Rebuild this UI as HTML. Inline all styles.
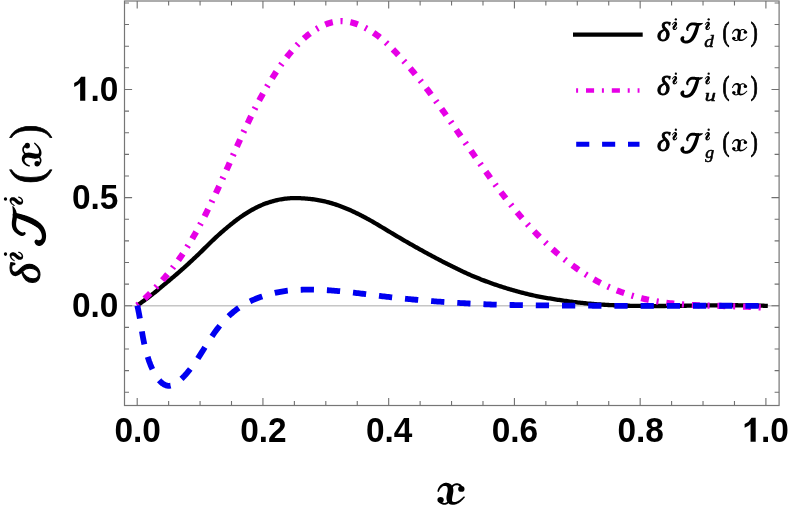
<!DOCTYPE html>
<html><head><meta charset="utf-8"><title>plot</title>
<style>html,body{margin:0;padding:0;background:#fff;}body{width:789px;height:527px;position:relative;overflow:hidden;font-family:"Liberation Sans",sans-serif;}</style>
</head><body>
<svg width="789" height="527" viewBox="0 0 789 527" style="position:absolute;left:0;top:0;will-change:transform">
<rect width="789" height="527" fill="#fff"/>
<line x1="124.5" x2="779.1" y1="305.75" y2="305.75" stroke="#c6c6c6" stroke-width="1.4"/>
<path d="M137.30,305.39 L138.49,304.57 L139.66,303.75 L140.83,302.92 L141.99,302.09 L143.14,301.26 L144.29,300.42 L145.43,299.58 L146.55,298.74 L147.68,297.90 L148.79,297.06 L149.90,296.22 L151.00,295.38 L152.10,294.54 L153.19,293.68 L154.27,292.83 L155.34,291.97 L156.41,291.10 L157.48,290.23 L158.54,289.35 L159.59,288.47 L160.64,287.59 L161.68,286.70 L162.72,285.81 L163.75,284.94 L164.78,284.08 L165.81,283.23 L166.83,282.40 L167.85,281.56 L168.86,280.73 L169.87,279.90 L170.87,279.06 L171.88,278.21 L172.88,277.36 L173.87,276.52 L174.87,275.68 L175.86,274.84 L176.85,274.00 L177.83,273.16 L178.82,272.31 L179.80,271.46 L180.78,270.60 L181.76,269.74 L182.74,268.87 L183.71,268.00 L184.69,267.12 L185.66,266.24 L186.64,265.36 L187.61,264.47 L188.58,263.58 L189.56,262.68 L190.53,261.78 L191.50,260.87 L192.48,259.96 L193.45,259.04 L194.42,258.13 L195.40,257.22 L196.38,256.30 L197.35,255.38 L198.33,254.45 L199.31,253.51 L200.29,252.56 L201.28,251.59 L202.27,250.61 L203.25,249.63 L204.24,248.64 L205.24,247.65 L206.23,246.67 L207.23,245.68 L208.24,244.70 L209.24,243.72 L210.25,242.74 L211.26,241.76 L212.28,240.79 L213.30,239.82 L214.32,238.85 L215.35,237.89 L216.39,236.93 L217.43,235.97 L218.47,235.02 L219.52,234.07 L220.57,233.13 L221.63,232.20 L222.69,231.27 L223.76,230.35 L224.84,229.43 L225.92,228.52 L227.01,227.61 L228.10,226.70 L229.20,225.79 L230.31,224.88 L231.42,223.98 L232.55,223.09 L233.68,222.20 L234.81,221.31 L235.96,220.44 L237.11,219.57 L238.27,218.71 L239.43,217.87 L240.61,217.03 L241.79,216.22 L242.97,215.41 L244.17,214.63 L245.37,213.86 L246.57,213.10 L247.79,212.35 L249.01,211.62 L250.23,210.90 L251.46,210.19 L252.70,209.50 L253.95,208.83 L255.20,208.17 L256.45,207.53 L257.71,206.90 L258.98,206.30 L260.25,205.72 L261.53,205.15 L262.81,204.61 L264.10,204.10 L265.39,203.61 L266.68,203.13 L267.98,202.68 L269.29,202.25 L270.60,201.83 L271.91,201.44 L273.23,201.06 L274.55,200.71 L275.88,200.37 L277.21,200.06 L278.55,199.77 L279.88,199.51 L281.22,199.26 L282.57,199.04 L283.92,198.84 L285.27,198.67 L286.62,198.52 L287.98,198.40 L289.34,198.29 L290.70,198.21 L292.06,198.15 L293.43,198.11 L294.79,198.09 L296.16,198.09 L297.53,198.11 L298.90,198.15 L300.27,198.21 L301.65,198.28 L303.02,198.36 L304.39,198.46 L305.76,198.56 L307.13,198.67 L308.50,198.79 L309.87,198.93 L311.24,199.08 L312.60,199.24 L313.97,199.42 L315.33,199.61 L316.69,199.82 L318.05,200.04 L319.40,200.28 L320.75,200.54 L322.10,200.81 L323.44,201.10 L324.79,201.42 L326.12,201.74 L327.46,202.09 L328.78,202.44 L330.11,202.81 L331.43,203.19 L332.74,203.59 L334.05,203.99 L335.35,204.41 L336.65,204.84 L337.94,205.28 L339.22,205.74 L340.50,206.21 L341.77,206.68 L343.03,207.17 L344.29,207.67 L345.55,208.18 L346.80,208.70 L348.04,209.23 L349.28,209.77 L350.52,210.33 L351.75,210.89 L352.97,211.45 L354.19,212.03 L355.41,212.61 L356.63,213.19 L357.84,213.79 L359.04,214.38 L360.25,214.99 L361.45,215.60 L362.65,216.22 L363.84,216.85 L365.04,217.48 L366.23,218.12 L367.42,218.77 L368.61,219.42 L369.79,220.08 L370.98,220.75 L372.16,221.43 L373.35,222.11 L374.53,222.79 L375.71,223.49 L376.89,224.19 L378.07,224.89 L379.25,225.60 L380.43,226.31 L381.62,227.02 L382.80,227.73 L383.98,228.45 L385.17,229.16 L386.35,229.88 L387.54,230.60 L388.73,231.31 L389.92,232.03 L391.11,232.74 L392.30,233.46 L393.50,234.17 L394.69,234.89 L395.89,235.60 L397.09,236.31 L398.29,237.02 L399.50,237.72 L400.70,238.43 L401.91,239.13 L403.12,239.84 L404.33,240.54 L405.54,241.24 L406.75,241.94 L407.97,242.64 L409.19,243.34 L410.40,244.03 L411.62,244.73 L412.85,245.42 L414.07,246.12 L415.29,246.81 L416.52,247.50 L417.75,248.19 L418.98,248.87 L420.21,249.56 L421.44,250.24 L422.67,250.92 L423.91,251.60 L425.15,252.28 L426.38,252.95 L427.62,253.63 L428.87,254.30 L430.11,254.97 L431.35,255.64 L432.60,256.31 L433.85,256.97 L435.09,257.64 L436.34,258.30 L437.60,258.96 L438.85,259.62 L440.10,260.27 L441.36,260.92 L442.62,261.57 L443.88,262.22 L445.14,262.86 L446.40,263.51 L447.66,264.14 L448.92,264.78 L450.19,265.41 L451.46,266.04 L452.72,266.66 L453.99,267.29 L455.26,267.91 L456.54,268.53 L457.81,269.16 L459.09,269.77 L460.36,270.39 L461.64,271.00 L462.92,271.61 L464.20,272.21 L465.48,272.80 L466.76,273.39 L468.05,273.98 L469.33,274.55 L470.62,275.12 L471.90,275.68 L473.19,276.24 L474.48,276.78 L475.77,277.31 L477.07,277.84 L478.36,278.36 L479.66,278.87 L480.95,279.38 L482.25,279.89 L483.55,280.38 L484.85,280.88 L486.15,281.37 L487.45,281.85 L488.75,282.33 L490.06,282.80 L491.36,283.27 L492.67,283.73 L493.98,284.18 L495.28,284.63 L496.59,285.08 L497.90,285.52 L499.22,285.95 L500.53,286.38 L501.84,286.81 L503.16,287.23 L504.47,287.64 L505.79,288.05 L507.11,288.45 L508.43,288.85 L509.75,289.25 L511.07,289.64 L512.39,290.02 L513.72,290.40 L515.04,290.78 L516.37,291.15 L517.69,291.51 L519.02,291.87 L520.35,292.23 L521.68,292.58 L523.01,292.92 L524.34,293.26 L525.67,293.59 L527.00,293.92 L528.34,294.25 L529.67,294.56 L531.01,294.88 L532.34,295.18 L533.68,295.48 L535.02,295.76 L536.36,296.04 L537.70,296.31 L539.04,296.58 L540.38,296.84 L541.72,297.09 L543.07,297.33 L544.41,297.57 L545.76,297.81 L547.10,298.04 L548.45,298.27 L549.80,298.49 L551.14,298.71 L552.49,298.93 L553.84,299.14 L555.19,299.35 L556.54,299.56 L557.90,299.77 L559.25,299.98 L560.60,300.19 L561.96,300.39 L563.31,300.60 L564.67,300.80 L566.02,300.99 L567.38,301.18 L568.74,301.36 L570.10,301.55 L571.46,301.72 L572.82,301.89 L574.18,302.06 L575.54,302.23 L576.90,302.39 L578.26,302.54 L579.63,302.69 L580.99,302.84 L582.36,302.98 L583.72,303.12 L585.09,303.26 L586.45,303.39 L587.82,303.52 L589.19,303.64 L590.55,303.76 L591.92,303.88 L593.29,303.99 L594.66,304.10 L596.03,304.20 L597.40,304.30 L598.77,304.40 L600.15,304.50 L601.52,304.59 L602.89,304.67 L604.27,304.76 L605.64,304.84 L607.01,304.92 L608.39,304.99 L609.76,305.06 L611.14,305.13 L612.52,305.20 L613.89,305.26 L615.27,305.32 L616.65,305.38 L618.03,305.43 L619.40,305.48 L620.78,305.53 L622.16,305.58 L623.54,305.62 L624.92,305.66 L626.30,305.70 L627.68,305.74 L629.07,305.77 L630.45,305.80 L631.83,305.83 L633.21,305.86 L634.59,305.89 L635.98,305.91 L637.36,305.93 L638.74,305.95 L640.13,305.96 L641.51,305.98 L642.90,305.99 L644.28,306.00 L645.67,306.01 L647.05,306.02 L648.44,306.02 L649.82,306.03 L651.21,306.03 L652.60,306.03 L653.98,306.03 L655.37,306.03 L656.76,306.03 L658.14,306.02 L659.53,306.02 L660.92,306.01 L662.31,306.00 L663.70,305.99 L665.08,305.98 L666.47,305.97 L667.86,305.96 L669.25,305.95 L670.64,305.93 L672.03,305.92 L673.42,305.90 L674.81,305.89 L676.20,305.87 L677.59,305.85 L678.98,305.84 L680.37,305.82 L681.76,305.80 L683.15,305.78 L684.54,305.76 L685.93,305.74 L687.32,305.72 L688.71,305.70 L690.10,305.68 L691.49,305.66 L692.88,305.64 L694.27,305.62 L695.66,305.60 L697.05,305.58 L698.44,305.56 L699.83,305.54 L701.22,305.52 L702.61,305.50 L704.00,305.48 L705.39,305.46 L706.78,305.44 L708.17,305.43 L709.56,305.41 L710.95,305.39 L712.34,305.38 L713.73,305.36 L715.12,305.35 L716.51,305.34 L717.90,305.32 L719.29,305.31 L720.68,305.30 L722.07,305.29 L723.46,305.29 L724.85,305.28 L726.24,305.27 L727.63,305.27 L729.01,305.26 L730.40,305.26 L731.79,305.26 L733.18,305.26 L734.57,305.26 L735.95,305.27 L737.34,305.27 L738.73,305.28 L740.12,305.29 L741.50,305.30 L742.89,305.31 L744.28,305.33 L745.66,305.34 L747.05,305.36 L748.43,305.38 L749.82,305.40 L751.20,305.43 L752.59,305.45 L753.97,305.48 L755.36,305.51 L756.74,305.55 L758.13,305.58 L759.51,305.62 L760.89,305.66 L762.27,305.70 L763.66,305.75 L765.04,305.80 L766.42,305.85 L767.80,305.90" fill="none" stroke="#000" stroke-width="4.3" stroke-linejoin="round"/>
<path d="M137.30,305.40 L138.68,304.18 L140.05,302.94 L141.40,301.70 L142.74,300.45 L144.07,299.19 L145.39,297.93 L146.70,296.65 L148.00,295.37 L149.29,294.08 L150.56,292.79 L151.83,291.49 L153.08,290.21 L154.32,288.92 L155.55,287.63 L156.77,286.35 L157.98,285.05 L159.19,283.76 L160.38,282.46 L161.56,281.15 L162.73,279.83 L163.89,278.50 L165.04,277.16 L166.18,275.81 L167.31,274.46 L168.43,273.11 L169.54,271.75 L170.64,270.38 L171.73,269.01 L172.82,267.63 L173.89,266.24 L174.96,264.84 L176.02,263.43 L177.06,262.01 L178.10,260.57 L179.13,259.12 L180.16,257.66 L181.17,256.18 L182.18,254.70 L183.17,253.21 L184.16,251.70 L185.15,250.19 L186.12,248.68 L187.09,247.15 L188.04,245.62 L189.00,244.08 L189.94,242.54 L190.87,240.99 L191.80,239.43 L192.72,237.87 L193.64,236.30 L194.55,234.74 L195.45,233.16 L196.34,231.59 L197.23,230.00 L198.11,228.42 L198.98,226.84 L199.85,225.25 L200.71,223.65 L201.57,222.05 L202.42,220.45 L203.26,218.84 L204.10,217.22 L204.93,215.60 L205.75,213.98 L206.57,212.35 L207.39,210.72 L208.20,209.09 L209.00,207.46 L209.80,205.83 L210.60,204.20 L211.39,202.57 L212.17,200.94 L212.96,199.31 L213.73,197.68 L214.51,196.06 L215.28,194.44 L216.05,192.82 L216.81,191.20 L217.57,189.57 L218.33,187.94 L219.08,186.31 L219.83,184.68 L220.58,183.05 L221.33,181.42 L222.07,179.78 L222.82,178.14 L223.56,176.51 L224.30,174.87 L225.04,173.23 L225.77,171.58 L226.51,169.94 L227.25,168.30 L227.98,166.65 L228.71,165.01 L229.45,163.36 L230.18,161.71 L230.91,160.07 L231.65,158.42 L232.38,156.77 L233.12,155.12 L233.85,153.47 L234.59,151.83 L235.32,150.18 L236.06,148.53 L236.80,146.88 L237.54,145.23 L238.28,143.58 L239.03,141.94 L239.77,140.29 L240.52,138.64 L241.27,137.00 L242.03,135.35 L242.78,133.71 L243.54,132.06 L244.31,130.42 L245.07,128.78 L245.84,127.14 L246.61,125.50 L247.39,123.86 L248.17,122.22 L248.96,120.59 L249.75,118.95 L250.54,117.32 L251.34,115.69 L252.14,114.07 L252.95,112.45 L253.76,110.83 L254.58,109.22 L255.41,107.61 L256.24,106.01 L257.07,104.41 L257.92,102.82 L258.76,101.22 L259.62,99.64 L260.48,98.06 L261.35,96.48 L262.22,94.90 L263.10,93.33 L263.99,91.77 L264.89,90.20 L265.80,88.65 L266.71,87.09 L267.63,85.54 L268.56,84.00 L269.49,82.46 L270.44,80.92 L271.39,79.38 L272.36,77.85 L273.33,76.33 L274.31,74.80 L275.30,73.28 L276.30,71.77 L277.31,70.26 L278.33,68.75 L279.36,67.25 L280.41,65.76 L281.46,64.27 L282.53,62.80 L283.62,61.33 L284.71,59.87 L285.82,58.42 L286.94,56.98 L288.08,55.55 L289.24,54.13 L290.41,52.73 L291.59,51.32 L292.80,49.93 L294.02,48.54 L295.25,47.16 L296.51,45.79 L297.78,44.43 L299.08,43.09 L300.39,41.77 L301.72,40.47 L303.08,39.20 L304.45,37.95 L305.85,36.74 L307.26,35.56 L308.70,34.43 L310.16,33.32 L311.65,32.24 L313.15,31.20 L314.67,30.19 L316.20,29.21 L317.76,28.28 L319.33,27.40 L320.92,26.56 L322.52,25.77 L324.13,25.03 L325.75,24.35 L327.39,23.72 L329.03,23.16 L330.69,22.66 L332.35,22.23 L334.02,21.87 L335.69,21.59 L337.37,21.38 L339.06,21.24 L340.74,21.18 L342.43,21.19 L344.12,21.28 L345.81,21.44 L347.50,21.67 L349.19,21.96 L350.87,22.32 L352.56,22.74 L354.23,23.22 L355.91,23.76 L357.57,24.35 L359.23,25.00 L360.88,25.70 L362.52,26.45 L364.15,27.24 L365.76,28.08 L367.37,28.96 L368.96,29.88 L370.54,30.84 L372.10,31.83 L373.65,32.85 L375.18,33.90 L376.69,34.98 L378.19,36.08 L379.66,37.21 L381.12,38.37 L382.56,39.56 L383.99,40.79 L385.40,42.05 L386.79,43.34 L388.17,44.65 L389.53,45.97 L390.88,47.31 L392.21,48.66 L393.53,50.02 L394.84,51.37 L396.14,52.73 L397.42,54.08 L398.69,55.43 L399.95,56.77 L401.20,58.10 L402.44,59.45 L403.67,60.80 L404.89,62.16 L406.10,63.52 L407.30,64.90 L408.49,66.27 L409.68,67.66 L410.86,69.05 L412.03,70.44 L413.20,71.83 L414.36,73.23 L415.51,74.63 L416.66,76.03 L417.81,77.44 L418.94,78.85 L420.08,80.26 L421.20,81.67 L422.33,83.09 L423.45,84.51 L424.56,85.94 L425.67,87.37 L426.77,88.80 L427.87,90.23 L428.96,91.67 L430.05,93.11 L431.14,94.56 L432.22,96.00 L433.30,97.45 L434.38,98.91 L435.45,100.36 L436.52,101.82 L437.58,103.28 L438.64,104.74 L439.70,106.20 L440.75,107.66 L441.81,109.13 L442.86,110.59 L443.90,112.06 L444.95,113.53 L445.99,115.00 L447.03,116.47 L448.06,117.94 L449.10,119.41 L450.13,120.88 L451.16,122.36 L452.19,123.83 L453.22,125.30 L454.25,126.77 L455.27,128.25 L456.29,129.72 L457.32,131.19 L458.34,132.67 L459.36,134.14 L460.38,135.61 L461.39,137.08 L462.41,138.54 L463.43,140.01 L464.45,141.47 L465.46,142.92 L466.48,144.38 L467.50,145.83 L468.51,147.29 L469.53,148.74 L470.55,150.18 L471.57,151.63 L472.59,153.08 L473.61,154.52 L474.63,155.96 L475.65,157.40 L476.67,158.85 L477.69,160.29 L478.72,161.72 L479.74,163.16 L480.77,164.60 L481.80,166.04 L482.83,167.48 L483.86,168.92 L484.90,170.35 L485.93,171.79 L486.97,173.23 L488.01,174.67 L489.06,176.11 L490.11,177.56 L491.15,179.00 L492.21,180.44 L493.26,181.87 L494.32,183.30 L495.38,184.74 L496.44,186.16 L497.51,187.59 L498.58,189.01 L499.66,190.43 L500.74,191.85 L501.82,193.27 L502.91,194.68 L504.00,196.08 L505.09,197.49 L506.19,198.89 L507.29,200.29 L508.40,201.69 L509.52,203.08 L510.63,204.47 L511.76,205.85 L512.88,207.24 L514.02,208.61 L515.15,209.99 L516.30,211.36 L517.45,212.73 L518.60,214.09 L519.76,215.45 L520.93,216.81 L522.10,218.16 L523.28,219.51 L524.46,220.85 L525.65,222.19 L526.85,223.52 L528.05,224.85 L529.26,226.17 L530.48,227.48 L531.70,228.79 L532.94,230.10 L534.17,231.40 L535.42,232.69 L536.67,233.98 L537.93,235.27 L539.20,236.54 L540.48,237.82 L541.76,239.08 L543.05,240.34 L544.35,241.59 L545.66,242.84 L546.97,244.08 L548.30,245.32 L549.63,246.54 L550.97,247.76 L552.32,248.98 L553.68,250.19 L555.05,251.39 L556.43,252.58 L557.82,253.77 L559.21,254.95 L560.62,256.12 L562.03,257.28 L563.45,258.44 L564.88,259.58 L566.32,260.72 L567.77,261.85 L569.22,262.96 L570.69,264.07 L572.16,265.16 L573.64,266.25 L575.13,267.32 L576.62,268.38 L578.13,269.43 L579.64,270.47 L581.16,271.49 L582.68,272.50 L584.22,273.50 L585.76,274.48 L587.30,275.45 L588.86,276.41 L590.42,277.35 L591.99,278.27 L593.57,279.18 L595.15,280.07 L596.74,280.95 L598.33,281.81 L599.93,282.65 L601.54,283.47 L603.16,284.28 L604.78,285.07 L606.40,285.85 L608.04,286.61 L609.67,287.35 L611.32,288.07 L612.97,288.78 L614.62,289.47 L616.28,290.15 L617.95,290.81 L619.62,291.45 L621.30,292.08 L622.98,292.69 L624.66,293.28 L626.36,293.86 L628.05,294.42 L629.75,294.96 L631.46,295.49 L633.17,296.00 L634.88,296.50 L636.60,296.98 L638.33,297.44 L640.05,297.89 L641.78,298.32 L643.52,298.73 L645.26,299.13 L647.00,299.52 L648.75,299.88 L650.50,300.24 L652.25,300.57 L654.01,300.90 L655.77,301.20 L657.53,301.50 L659.30,301.78 L661.07,302.05 L662.84,302.30 L664.61,302.55 L666.39,302.78 L668.17,303.00 L669.95,303.21 L671.74,303.40 L673.53,303.59 L675.32,303.77 L677.11,303.94 L678.90,304.09 L680.70,304.24 L682.50,304.38 L684.30,304.51 L686.10,304.64 L687.90,304.75 L689.70,304.86 L691.51,304.96 L693.32,305.06 L695.13,305.15 L696.93,305.23 L698.75,305.31 L700.56,305.38 L702.37,305.45 L704.18,305.52 L705.99,305.58 L707.81,305.63 L709.62,305.69 L711.44,305.74 L713.25,305.79 L715.07,305.83 L716.88,305.88 L718.70,305.92 L720.51,305.96 L722.33,306.00 L724.14,306.04 L725.96,306.08 L727.77,306.13 L729.58,306.17 L731.39,306.21 L733.21,306.26 L735.02,306.31 L736.82,306.36 L738.63,306.41 L740.44,306.46 L742.25,306.52 L744.05,306.59 L745.85,306.65 L747.66,306.72 L749.46,306.80 L751.25,306.88 L753.05,306.97 L754.84,307.06 L756.64,307.16 L758.43,307.27 L760.21,307.38 L762.00,307.50" fill="none" stroke="#e600e6" stroke-width="6.2" stroke-dasharray="2.1 7.83 7.9 7.78" stroke-dashoffset="0" stroke-linejoin="round"/>
<path d="M137.30,305.60 L137.63,307.03 L137.95,308.46 L138.26,309.88 L138.55,311.30 L138.83,312.72 L139.10,314.13 L139.35,315.54 L139.60,316.95 L139.85,318.36 L140.08,319.76 L140.31,321.16 L140.54,322.56 L140.76,323.96 L140.98,325.36 L141.20,326.76 L141.43,328.16 L141.65,329.56 L141.87,330.96 L142.10,332.36 L142.34,333.76 L142.58,335.16 L142.82,336.56 L143.08,337.96 L143.35,339.37 L143.62,340.77 L143.91,342.18 L144.21,343.59 L144.52,345.00 L144.85,346.42 L145.20,347.84 L145.56,349.28 L145.94,350.74 L146.34,352.22 L146.76,353.73 L147.21,355.25 L147.68,356.79 L148.17,358.34 L148.68,359.90 L149.22,361.47 L149.80,363.02 L150.39,364.57 L151.02,366.11 L151.68,367.64 L152.36,369.17 L153.07,370.66 L153.81,372.13 L154.58,373.57 L155.38,374.96 L156.21,376.30 L157.06,377.58 L157.95,378.80 L158.86,379.94 L159.80,381.00 L160.77,381.97 L161.77,382.86 L162.80,383.66 L163.85,384.34 L164.92,384.91 L166.02,385.35 L167.14,385.65 L168.27,385.80 L169.42,385.79 L170.58,385.64 L171.75,385.35 L172.92,384.93 L174.10,384.40 L175.28,383.75 L176.45,383.01 L177.63,382.19 L178.79,381.29 L179.95,380.32 L181.09,379.29 L182.22,378.21 L183.32,377.07 L184.41,375.91 L185.47,374.73 L186.51,373.54 L187.53,372.35 L188.52,371.16 L189.49,369.96 L190.44,368.77 L191.37,367.58 L192.28,366.38 L193.17,365.17 L194.05,363.95 L194.91,362.74 L195.76,361.51 L196.59,360.29 L197.42,359.06 L198.23,357.83 L199.04,356.59 L199.83,355.36 L200.62,354.12 L201.40,352.89 L202.18,351.65 L202.95,350.42 L203.72,349.19 L204.49,347.96 L205.26,346.73 L206.03,345.51 L206.80,344.28 L207.58,343.06 L208.36,341.83 L209.14,340.61 L209.93,339.39 L210.73,338.18 L211.53,336.97 L212.35,335.76 L213.18,334.56 L214.02,333.36 L214.87,332.16 L215.74,330.97 L216.62,329.79 L217.52,328.62 L218.43,327.45 L219.36,326.29 L220.30,325.14 L221.26,324.00 L222.24,322.88 L223.23,321.77 L224.23,320.67 L225.25,319.58 L226.28,318.52 L227.32,317.47 L228.38,316.43 L229.45,315.42 L230.53,314.43 L231.63,313.46 L232.74,312.51 L233.86,311.58 L234.99,310.68 L236.14,309.80 L237.29,308.95 L238.46,308.12 L239.63,307.31 L240.82,306.53 L242.02,305.76 L243.23,305.02 L244.45,304.30 L245.68,303.61 L246.92,302.93 L248.16,302.28 L249.42,301.64 L250.69,301.03 L251.96,300.44 L253.24,299.86 L254.54,299.31 L255.84,298.77 L257.14,298.26 L258.46,297.76 L259.78,297.28 L261.11,296.82 L262.45,296.37 L263.79,295.93 L265.14,295.51 L266.50,295.10 L267.86,294.70 L269.23,294.32 L270.60,293.95 L271.98,293.60 L273.37,293.26 L274.76,292.93 L276.16,292.62 L277.56,292.33 L278.96,292.05 L280.37,291.79 L281.78,291.54 L283.20,291.31 L284.62,291.10 L286.04,290.91 L287.47,290.73 L288.90,290.57 L290.33,290.44 L291.76,290.31 L293.20,290.20 L294.64,290.10 L296.08,290.01 L297.52,289.93 L298.96,289.86 L300.41,289.80 L301.85,289.75 L303.30,289.72 L304.75,289.68 L306.19,289.66 L307.64,289.65 L309.09,289.65 L310.54,289.65 L311.98,289.66 L313.43,289.68 L314.88,289.71 L316.32,289.74 L317.77,289.78 L319.21,289.83 L320.66,289.89 L322.11,289.95 L323.55,290.01 L325.00,290.09 L326.44,290.17 L327.89,290.25 L329.33,290.35 L330.78,290.44 L332.22,290.55 L333.67,290.66 L335.11,290.77 L336.56,290.89 L338.00,291.02 L339.45,291.15 L340.89,291.29 L342.34,291.43 L343.78,291.57 L345.22,291.72 L346.67,291.88 L348.11,292.03 L349.55,292.19 L351.00,292.36 L352.44,292.52 L353.88,292.69 L355.33,292.87 L356.77,293.04 L358.21,293.22 L359.66,293.39 L361.10,293.57 L362.54,293.75 L363.98,293.93 L365.43,294.12 L366.87,294.30 L368.31,294.48 L369.75,294.67 L371.19,294.85 L372.64,295.03 L374.08,295.21 L375.52,295.39 L376.96,295.57 L378.40,295.75 L379.84,295.93 L381.28,296.10 L382.72,296.28 L384.17,296.45 L385.61,296.62 L387.05,296.79 L388.49,296.96 L389.93,297.12 L391.37,297.28 L392.81,297.44 L394.25,297.60 L395.69,297.76 L397.13,297.92 L398.57,298.07 L400.01,298.22 L401.45,298.37 L402.89,298.52 L404.33,298.66 L405.77,298.81 L407.21,298.95 L408.65,299.09 L410.09,299.23 L411.53,299.36 L412.97,299.50 L414.41,299.63 L415.85,299.76 L417.28,299.89 L418.72,300.02 L420.16,300.14 L421.60,300.27 L423.04,300.39 L424.48,300.51 L425.92,300.63 L427.36,300.75 L428.79,300.86 L430.23,300.98 L431.67,301.09 L433.11,301.20 L434.55,301.31 L435.99,301.42 L437.42,301.53 L438.86,301.63 L440.30,301.73 L441.74,301.84 L443.18,301.94 L444.61,302.04 L446.05,302.13 L447.49,302.23 L448.93,302.32 L450.37,302.42 L451.80,302.51 L453.24,302.60 L454.68,302.69 L456.12,302.78 L457.55,302.86 L458.99,302.95 L460.43,303.03 L461.87,303.11 L463.30,303.19 L464.74,303.27 L466.18,303.35 L467.62,303.43 L469.05,303.50 L470.49,303.58 L471.93,303.65 L473.36,303.72 L474.80,303.79 L476.24,303.86 L477.67,303.93 L479.11,304.00 L480.55,304.06 L481.99,304.13 L483.42,304.19 L484.86,304.25 L486.30,304.31 L487.73,304.37 L489.17,304.42 L490.61,304.48 L492.04,304.53 L493.48,304.57 L494.92,304.62 L496.35,304.66 L497.79,304.70 L499.23,304.74 L500.66,304.77 L502.10,304.81 L503.54,304.84 L504.97,304.87 L506.41,304.90 L507.85,304.93 L509.28,304.95 L510.72,304.98 L512.16,305.00 L513.59,305.02 L515.03,305.05 L516.47,305.07 L517.90,305.09 L519.34,305.10 L520.78,305.12 L522.21,305.14 L523.65,305.16 L525.09,305.18 L526.52,305.19 L527.96,305.21 L529.39,305.23 L530.83,305.24 L532.27,305.26 L533.70,305.28 L535.14,305.29 L536.58,305.31 L538.01,305.33 L539.45,305.35 L540.89,305.37 L542.32,305.38 L543.76,305.40 L545.20,305.42 L546.63,305.44 L548.07,305.45 L549.51,305.47 L550.94,305.48 L552.38,305.49 L553.82,305.51 L555.26,305.52 L556.69,305.53 L558.13,305.54 L559.57,305.56 L561.00,305.57 L562.44,305.58 L563.88,305.59 L565.31,305.60 L566.75,305.60 L568.19,305.61 L569.63,305.62 L571.06,305.63 L572.50,305.64 L573.94,305.64 L575.37,305.65 L576.81,305.66 L578.25,305.67 L579.69,305.67 L581.12,305.68 L582.56,305.69 L584.00,305.69 L585.44,305.70 L586.87,305.70 L588.31,305.71 L589.75,305.72 L591.19,305.72 L592.62,305.73 L594.06,305.74 L595.50,305.74 L596.94,305.75 L598.38,305.76 L599.81,305.76 L601.25,305.77 L602.69,305.78 L604.13,305.78 L605.57,305.79 L607.00,305.79 L608.44,305.80 L609.88,305.80 L611.32,305.81 L612.76,305.81 L614.20,305.81 L615.64,305.82 L617.07,305.82 L618.51,305.82 L619.95,305.83 L621.39,305.83 L622.83,305.83 L624.27,305.83 L625.71,305.83 L627.15,305.83 L628.59,305.84 L630.03,305.84 L631.47,305.84 L632.91,305.84 L634.35,305.84 L635.79,305.84 L637.23,305.84 L638.66,305.84 L640.10,305.84 L641.54,305.84 L642.99,305.83 L644.43,305.83 L645.87,305.83 L647.31,305.83 L648.75,305.83 L650.19,305.83 L651.63,305.83 L653.07,305.82 L654.51,305.82 L655.95,305.82 L657.39,305.82 L658.83,305.81 L660.27,305.81 L661.71,305.81 L663.16,305.81 L664.60,305.80 L666.04,305.80 L667.48,305.80 L668.92,305.80 L670.36,305.79 L671.81,305.79 L673.25,305.79 L674.69,305.79 L676.13,305.78 L677.58,305.78 L679.02,305.78 L680.46,305.78 L681.90,305.77 L683.35,305.77 L684.79,305.77 L686.23,305.77 L687.68,305.76 L689.12,305.76 L690.56,305.76 L692.01,305.76 L693.45,305.76 L694.89,305.75 L696.34,305.75 L697.78,305.75 L699.22,305.75 L700.67,305.75 L702.11,305.75 L703.56,305.74 L705.00,305.74 L706.45,305.74 L707.89,305.74 L709.34,305.74 L710.78,305.74 L712.23,305.74 L713.67,305.74 L715.12,305.74 L716.56,305.74 L718.01,305.74 L719.46,305.74 L720.90,305.75 L722.35,305.75 L723.79,305.75 L725.24,305.75 L726.69,305.75 L728.13,305.76 L729.58,305.76 L731.03,305.76 L732.48,305.77 L733.92,305.77 L735.37,305.77 L736.82,305.78 L738.27,305.78 L739.71,305.79 L741.16,305.79 L742.61,305.80 L744.06,305.81 L745.51,305.81 L746.96,305.82 L748.40,305.83 L749.85,305.83 L751.30,305.84 L752.75,305.85 L754.20,305.86 L755.65,305.87 L757.10,305.88 L758.55,305.89 L760.00,305.90" fill="none" stroke="#0000f0" stroke-width="5.8" stroke-dasharray="13.25 12.95" stroke-linejoin="round"/>
<rect x="124.5" y="1.0" width="654.6" height="404.5" fill="none" stroke="#767676" stroke-width="1.2"/>
<path d="M137.20,405.5v-7.6M137.20,1.0v7.6M168.63,405.5v-4.5M168.63,1.0v4.5M200.07,405.5v-4.5M200.07,1.0v4.5M231.50,405.5v-4.5M231.50,1.0v4.5M262.94,405.5v-7.6M262.94,1.0v7.6M294.38,405.5v-4.5M294.38,1.0v4.5M325.81,405.5v-4.5M325.81,1.0v4.5M357.25,405.5v-4.5M357.25,1.0v4.5M388.68,405.5v-7.6M388.68,1.0v7.6M420.12,405.5v-4.5M420.12,1.0v4.5M451.55,405.5v-4.5M451.55,1.0v4.5M482.99,405.5v-4.5M482.99,1.0v4.5M514.42,405.5v-7.6M514.42,1.0v7.6M545.86,405.5v-4.5M545.86,1.0v4.5M577.29,405.5v-4.5M577.29,1.0v4.5M608.73,405.5v-4.5M608.73,1.0v4.5M640.16,405.5v-7.6M640.16,1.0v7.6M671.60,405.5v-4.5M671.60,1.0v4.5M703.03,405.5v-4.5M703.03,1.0v4.5M734.47,405.5v-4.5M734.47,1.0v4.5M765.90,405.5v-7.6M765.90,1.0v7.6M124.5,392.27h4.5M779.1,392.27h-4.5M124.5,370.64h4.5M779.1,370.64h-4.5M124.5,349.01h4.5M779.1,349.01h-4.5M124.5,327.38h4.5M779.1,327.38h-4.5M124.5,305.75h7.6M779.1,305.75h-7.6M124.5,284.12h4.5M779.1,284.12h-4.5M124.5,262.49h4.5M779.1,262.49h-4.5M124.5,240.86h4.5M779.1,240.86h-4.5M124.5,219.23h4.5M779.1,219.23h-4.5M124.5,197.60h7.6M779.1,197.60h-7.6M124.5,175.97h4.5M779.1,175.97h-4.5M124.5,154.34h4.5M779.1,154.34h-4.5M124.5,132.71h4.5M779.1,132.71h-4.5M124.5,111.08h4.5M779.1,111.08h-4.5M124.5,89.45h7.6M779.1,89.45h-7.6M124.5,67.82h4.5M779.1,67.82h-4.5M124.5,46.19h4.5M779.1,46.19h-4.5M124.5,24.56h4.5M779.1,24.56h-4.5M124.5,2.93h4.5M779.1,2.93h-4.5" stroke="#707070" stroke-width="1.1" fill="none"/>
<text transform="translate(114.44,441.70) scale(1,1.05)" font-family="Liberation Sans, sans-serif" font-weight="bold" font-size="33.4">0.0</text>
<text transform="translate(240.18,441.70) scale(1,1.05)" font-family="Liberation Sans, sans-serif" font-weight="bold" font-size="33.4">0.2</text>
<text transform="translate(365.92,441.70) scale(1,1.05)" font-family="Liberation Sans, sans-serif" font-weight="bold" font-size="33.4">0.4</text>
<text transform="translate(491.66,441.70) scale(1,1.05)" font-family="Liberation Sans, sans-serif" font-weight="bold" font-size="33.4">0.6</text>
<text transform="translate(617.40,441.70) scale(1,1.05)" font-family="Liberation Sans, sans-serif" font-weight="bold" font-size="33.4">0.8</text>
<path transform="translate(744.63,417.75)" d="M6.9,0 L11.07,0 L11.07,23.95 L5.93,23.95 L5.93,6.3 Q3.6,8.8 0,10.1 L0,6.3 Q4.6,4.4 6.9,0 Z"/><text transform="translate(760.96,441.70) scale(1,1.05)" font-family="Liberation Sans, sans-serif" font-weight="bold" font-size="33.4">.0</text>
<text transform="translate(71.97,317.05) scale(1,1.05)" font-family="Liberation Sans, sans-serif" font-weight="bold" font-size="33.4">0.0</text>
<text transform="translate(71.97,208.90) scale(1,1.05)" font-family="Liberation Sans, sans-serif" font-weight="bold" font-size="33.4">0.5</text>
<path transform="translate(74.21,76.80)" d="M6.9,0 L11.07,0 L11.07,23.95 L5.93,23.95 L5.93,6.3 Q3.6,8.8 0,10.1 L0,6.3 Q4.6,4.4 6.9,0 Z"/><text transform="translate(90.54,100.75) scale(1,1.05)" font-family="Liberation Sans, sans-serif" font-weight="bold" font-size="33.4">.0</text>
<line x1="573.0" x2="642.7" y1="34.65" y2="34.65" stroke="#000" stroke-width="4.2"/>
<line x1="576.1" x2="639.5" y1="90.45" y2="90.45" stroke="#e600e6" stroke-width="4.6" stroke-dasharray="2 7.9 8.1 7.8"/>
<line x1="576.2" x2="639.5" y1="144.3" y2="144.3" stroke="#0000f0" stroke-width="5" stroke-dasharray="13.1 12.8"/>
<text transform="matrix(0.2777,0,0,0.2653,656.95,40.67)" font-family="Liberation Serif, serif" font-style="italic" font-size="100" stroke="#000" stroke-width="3.5" stroke-linejoin="round">δ</text><g transform="matrix(0.1081,0,0,0.1124,672.29,18.47)"><path d="M3.1,56.8L4.3,55.5L5.4,54.1L6.4,52.7L7.4,51.2L8.4,49.8L9.4,48.5L10.5,47.2L11.6,46.0L12.7,44.9L13.8,43.9L15.0,43.1L16.3,42.4L17.6,41.9L19.0,41.6L20.4,41.5L21.8,41.7L23.2,42.1L24.2,42.7L24.9,43.4L25.1,44.0L24.6,44.4L23.9,44.5L23.4,44.5L23.1,44.9L23.0,45.4L22.8,46.1L22.6,46.8L22.4,47.4L22.2,48.0L22.0,48.7L21.6,49.4L21.2,50.2L20.7,51.1L20.0,52.1L19.3,53.2L18.4,54.4L17.4,55.6L16.3,56.9L15.2,58.3L13.9,59.7L12.6,61.2L11.3,62.7L10.0,64.3L8.7,66.1L7.4,67.9L6.2,69.9L5.1,72.0L4.1,74.3L3.3,76.7L2.7,79.3L2.4,81.9L2.4,84.7L2.6,87.5L3.3,90.4L4.3,93.3L5.8,96.2L8.0,98.9L10.7,101.1L13.6,102.5L16.5,103.2L19.2,103.5L21.8,103.5L24.4,103.1L26.8,102.5L29.0,101.7L31.1,100.7L33.1,99.5L34.9,98.2L36.5,96.8L38.1,95.2L39.5,93.5L40.7,91.8L41.9,90.0L42.9,88.2L43.7,86.3L44.4,84.3L44.9,82.4L45.3,80.5L45.5,78.6L45.4,77.3L44.9,76.0L43.9,75.0L42.6,74.5L41.3,74.6L40.0,75.1L39.0,76.1L38.5,77.4L38.0,78.7L37.5,80.1L36.8,81.5L36.2,82.9L35.4,84.3L34.6,85.6L33.7,86.9L32.8,88.2L31.7,89.3L30.7,90.3L29.5,91.2L28.4,91.9L27.2,92.4L26.0,92.8L24.7,92.9L23.5,92.9L22.3,92.6L21.2,92.2L20.3,91.6L19.8,90.9L19.8,90.3L20.2,90.0L20.7,89.8L21.1,89.3L21.5,88.6L22.0,87.7L22.5,86.8L23.0,85.8L23.5,84.9L24.0,84.1L24.5,83.2L25.0,82.4L25.6,81.4L26.3,80.4L27.0,79.3L27.9,78.2L28.8,76.9L29.8,75.7L30.9,74.4L32.1,73.0L33.3,71.6L34.6,70.0L36.0,68.4L37.3,66.7L38.7,64.8L40.0,62.8L41.2,60.6L42.3,58.3L43.3,55.7L43.9,53.0L44.3,50.0L44.4,47.0L44.0,44.0L43.3,40.9L42.1,37.9L40.3,34.9L37.8,32.1L34.5,29.9L31.0,28.7L27.8,28.4L24.8,28.7L22.1,29.4L19.6,30.3L17.3,31.4L15.2,32.6L13.4,33.9L11.6,35.2L10.0,36.6L8.5,38.0L7.1,39.5L5.8,41.0L4.6,42.5L3.5,44.0L2.4,45.6L1.4,47.1L0.4,48.7L-0.5,50.2L-1.4,51.7L-2.1,53.2L-2.6,54.3L-2.6,55.6L-2.2,56.7L-1.3,57.6L-0.2,58.1L1.1,58.1L2.2,57.7Z"/><circle cx="33" cy="8" r="10.4"/></g><g transform="matrix(0.2176,0,0,0.2023,680.92,22.56)"><path d="M73.1,6.3L72.6,7.5L72.2,8.6L71.7,9.7L71.3,10.9L70.9,12.0L70.5,13.2L70.0,14.3L69.6,15.5L69.2,16.6L68.8,17.8L68.4,18.9L68.0,20.1L67.7,21.2L67.3,22.3L66.9,23.5L66.5,24.6L66.1,25.8L65.8,26.9L65.4,28.0L65.0,29.2L64.7,30.3L64.3,31.4L63.9,32.6L63.5,33.7L63.2,34.8L62.8,35.9L62.4,37.1L62.1,38.2L61.7,39.3L61.3,40.4L60.9,41.5L60.5,42.6L60.1,43.7L59.7,44.8L59.3,45.9L58.9,46.9L58.5,48.0L58.1,49.1L57.7,50.2L57.3,51.2L56.8,52.3L56.4,53.4L56.0,54.4L55.5,55.5L55.1,56.5L54.6,57.6L54.1,58.6L53.7,59.6L53.2,60.7L52.7,61.7L52.2,62.8L51.7,63.8L51.2,64.8L50.7,65.9L50.2,66.9L49.6,67.9L49.1,68.9L48.6,69.9L48.1,70.9L47.5,71.8L47.0,72.8L46.4,73.7L45.9,74.6L45.3,75.5L44.7,76.3L44.1,77.2L43.5,78.0L42.9,78.8L42.3,79.5L41.6,80.2L41.0,80.9L40.3,81.6L39.6,82.3L38.9,82.9L38.1,83.5L37.4,84.1L36.6,84.6L35.8,85.2L35.0,85.7L34.1,86.1L33.3,86.6L32.4,87.0L31.5,87.4L30.6,87.7L29.7,88.0L28.8,88.3L27.9,88.6L26.9,88.8L26.0,89.0L25.0,89.1L24.1,89.2L23.2,89.3L22.3,89.3L21.4,89.2L20.5,89.1L19.7,89.0L19.0,88.8L18.3,88.5L17.7,88.2L17.1,87.9L16.7,87.5L16.2,87.0L15.9,86.5L15.5,85.9L15.2,85.3L15.0,84.7L14.8,84.1L14.6,83.5L14.5,82.9L14.5,82.4L14.4,81.9L14.4,81.5L14.3,81.2L14.3,80.9L14.2,80.6L14.1,80.3L13.9,79.9L13.8,79.4L13.8,78.7L15.2,76.5L15.7,74.0L15.2,71.4L13.7,69.2L11.5,67.8L9.0,67.3L6.4,67.8L4.2,69.3L2.4,70.6L0.9,72.2L-0.4,74.1L-1.4,76.0L-2.0,78.1L-2.3,80.2L-2.4,82.3L-2.2,84.3L-1.8,86.3L-1.2,88.1L-0.4,89.9L0.6,91.6L1.6,93.1L2.8,94.6L4.1,95.9L5.5,97.2L6.9,98.3L8.5,99.4L10.1,100.3L11.7,101.0L13.3,101.7L14.9,102.2L16.5,102.6L18.2,103.0L19.8,103.2L21.4,103.4L23.0,103.5L24.6,103.5L26.2,103.5L27.8,103.3L29.3,103.2L30.8,102.9L32.3,102.6L33.8,102.3L35.3,101.9L36.7,101.4L38.1,100.9L39.5,100.3L40.9,99.7L42.2,99.0L43.5,98.3L44.8,97.6L46.1,96.8L47.3,96.0L48.5,95.1L49.6,94.2L50.7,93.3L51.8,92.3L52.9,91.3L53.9,90.3L54.9,89.2L55.8,88.2L56.8,87.1L57.6,86.0L58.5,84.9L59.3,83.8L60.1,82.7L60.9,81.6L61.6,80.4L62.3,79.3L63.0,78.1L63.7,77.0L64.4,75.9L65.0,74.7L65.6,73.6L66.2,72.5L66.8,71.3L67.4,70.2L67.9,69.0L68.5,67.9L69.0,66.7L69.6,65.6L70.1,64.4L70.6,63.2L71.1,62.1L71.6,60.9L72.0,59.7L72.5,58.6L73.0,57.4L73.4,56.2L73.8,55.0L74.3,53.8L74.7,52.6L75.1,51.4L75.5,50.2L75.9,49.0L76.3,47.8L76.6,46.7L77.0,45.5L77.4,44.3L77.7,43.1L78.1,41.9L78.4,40.7L78.7,39.5L79.0,38.3L79.3,37.1L79.6,35.9L79.9,34.7L80.2,33.5L80.5,32.3L80.8,31.1L81.1,29.9L81.3,28.7L81.6,27.5L81.8,26.3L82.1,25.1L82.3,23.9L82.6,22.7L82.8,21.5L83.0,20.3L83.3,19.1L83.5,18.0L83.7,16.8L83.9,15.6L84.1,14.4L84.3,13.2L84.5,12.0L84.7,10.9L84.9,9.7L85.1,7.3L84.4,5.0L82.8,3.2L80.7,2.1L78.3,1.9L76.0,2.6L74.2,4.2Z"/><path d="M99.2,1.7L98.4,1.8L97.6,1.9L96.8,2.0L96.1,2.1L95.3,2.2L94.5,2.2L93.8,2.3L93.0,2.3L92.3,2.4L91.6,2.4L90.8,2.5L90.1,2.5L89.4,2.5L88.7,2.5L88.0,2.5L87.3,2.6L86.6,2.6L85.9,2.6L85.2,2.6L84.5,2.5L83.8,2.5L83.2,2.5L82.5,2.5L81.8,2.5L81.2,2.4L80.5,2.4L79.8,2.3L79.2,2.3L78.5,2.2L77.9,2.2L77.3,2.1L76.6,2.0L76.0,1.9L75.4,1.9L74.7,1.8L74.1,1.7L73.5,1.5L72.8,1.4L72.2,1.3L71.5,1.2L70.8,1.0L70.1,0.9L69.4,0.8L68.6,0.6L67.9,0.5L67.1,0.3L66.3,0.2L65.5,0.1L64.7,-0.1L63.9,-0.2L63.0,-0.3L62.1,-0.4L61.2,-0.5L60.3,-0.6L59.4,-0.7L58.5,-0.8L57.5,-0.8L56.6,-0.8L55.6,-0.8L54.7,-0.8L53.7,-0.7L52.7,-0.6L51.8,-0.5L50.8,-0.4L49.8,-0.2L48.8,-0.0L47.9,0.2L46.9,0.5L45.9,0.8L45.0,1.1L44.0,1.5L43.1,1.9L42.1,2.3L41.2,2.8L40.3,3.4L39.5,3.9L38.7,4.6L37.9,5.2L37.1,5.8L36.4,6.5L35.7,7.2L35.1,7.9L34.5,8.6L33.9,9.3L33.3,10.1L32.7,10.8L32.2,11.5L31.7,12.3L31.2,13.0L30.7,13.8L30.2,14.5L29.7,15.3L29.2,16.0L28.8,16.8L28.3,17.6L27.9,18.4L27.4,19.2L27.0,20.0L26.5,20.8L26.1,21.7L25.7,22.5L25.3,23.4L25.0,24.3L24.7,25.3L24.4,26.2L24.2,27.2L24.0,28.2L23.9,29.2L23.9,30.3L23.9,31.3L24.0,32.4L24.2,33.4L24.4,34.5L24.8,35.5L25.2,36.5L25.7,37.5L26.3,38.5L27.0,39.4L27.8,40.2L28.8,41.3L30.3,41.9L31.8,41.8L33.2,41.2L34.3,40.2L34.9,38.7L34.8,37.2L34.2,35.8L34.1,35.2L34.0,34.6L33.9,34.1L33.9,33.6L33.9,33.2L33.9,32.8L34.0,32.3L34.0,31.9L34.1,31.5L34.2,31.1L34.3,30.6L34.4,30.2L34.5,29.7L34.7,29.2L34.9,28.7L35.1,28.1L35.4,27.6L35.6,27.0L35.9,26.5L36.2,25.9L36.5,25.3L36.9,24.7L37.3,24.1L37.7,23.5L38.1,22.9L38.5,22.3L39.0,21.7L39.4,21.1L39.9,20.5L40.4,20.0L40.8,19.5L41.3,19.0L41.8,18.5L42.3,18.1L42.7,17.7L43.2,17.3L43.7,16.9L44.2,16.6L44.6,16.2L45.1,15.9L45.6,15.7L46.0,15.4L46.5,15.2L46.9,15.0L47.3,14.9L47.8,14.7L48.3,14.5L48.8,14.4L49.3,14.3L49.8,14.1L50.3,14.0L50.9,13.9L51.4,13.9L52.0,13.8L52.6,13.7L53.2,13.7L53.8,13.7L54.4,13.6L55.0,13.6L55.6,13.6L56.3,13.7L56.9,13.7L57.5,13.8L58.2,13.8L58.8,13.9L59.4,14.0L60.1,14.1L60.8,14.2L61.4,14.3L62.1,14.5L62.8,14.6L63.6,14.8L64.3,14.9L65.0,15.0L65.8,15.2L66.6,15.3L67.3,15.5L68.1,15.6L69.0,15.8L69.8,15.9L70.7,16.0L71.5,16.1L72.4,16.2L73.3,16.2L74.2,16.3L75.1,16.3L76.0,16.3L76.9,16.3L77.8,16.2L78.8,16.2L79.7,16.1L80.5,15.9L81.4,15.8L82.3,15.6L83.2,15.5L84.1,15.2L85.0,15.0L85.8,14.8L86.7,14.5L87.5,14.2L88.4,13.8L89.2,13.5L90.0,13.1L90.8,12.7L91.6,12.3L92.4,11.9L93.1,11.4L93.9,10.9L94.6,10.4L95.3,9.9L96.0,9.4L96.7,8.8L97.3,8.2L98.0,7.6L98.6,7.0L99.2,6.3L99.7,5.7L100.3,5.0L100.8,4.3L101.2,3.9L101.5,3.3L101.5,2.8L101.3,2.2L100.9,1.8L100.3,1.5L99.8,1.5Z"/></g><g transform="matrix(0.1081,0,0,0.1124,705.09,18.47)"><path d="M3.1,56.8L4.3,55.5L5.4,54.1L6.4,52.7L7.4,51.2L8.4,49.8L9.4,48.5L10.5,47.2L11.6,46.0L12.7,44.9L13.8,43.9L15.0,43.1L16.3,42.4L17.6,41.9L19.0,41.6L20.4,41.5L21.8,41.7L23.2,42.1L24.2,42.7L24.9,43.4L25.1,44.0L24.6,44.4L23.9,44.5L23.4,44.5L23.1,44.9L23.0,45.4L22.8,46.1L22.6,46.8L22.4,47.4L22.2,48.0L22.0,48.7L21.6,49.4L21.2,50.2L20.7,51.1L20.0,52.1L19.3,53.2L18.4,54.4L17.4,55.6L16.3,56.9L15.2,58.3L13.9,59.7L12.6,61.2L11.3,62.7L10.0,64.3L8.7,66.1L7.4,67.9L6.2,69.9L5.1,72.0L4.1,74.3L3.3,76.7L2.7,79.3L2.4,81.9L2.4,84.7L2.6,87.5L3.3,90.4L4.3,93.3L5.8,96.2L8.0,98.9L10.7,101.1L13.6,102.5L16.5,103.2L19.2,103.5L21.8,103.5L24.4,103.1L26.8,102.5L29.0,101.7L31.1,100.7L33.1,99.5L34.9,98.2L36.5,96.8L38.1,95.2L39.5,93.5L40.7,91.8L41.9,90.0L42.9,88.2L43.7,86.3L44.4,84.3L44.9,82.4L45.3,80.5L45.5,78.6L45.4,77.3L44.9,76.0L43.9,75.0L42.6,74.5L41.3,74.6L40.0,75.1L39.0,76.1L38.5,77.4L38.0,78.7L37.5,80.1L36.8,81.5L36.2,82.9L35.4,84.3L34.6,85.6L33.7,86.9L32.8,88.2L31.7,89.3L30.7,90.3L29.5,91.2L28.4,91.9L27.2,92.4L26.0,92.8L24.7,92.9L23.5,92.9L22.3,92.6L21.2,92.2L20.3,91.6L19.8,90.9L19.8,90.3L20.2,90.0L20.7,89.8L21.1,89.3L21.5,88.6L22.0,87.7L22.5,86.8L23.0,85.8L23.5,84.9L24.0,84.1L24.5,83.2L25.0,82.4L25.6,81.4L26.3,80.4L27.0,79.3L27.9,78.2L28.8,76.9L29.8,75.7L30.9,74.4L32.1,73.0L33.3,71.6L34.6,70.0L36.0,68.4L37.3,66.7L38.7,64.8L40.0,62.8L41.2,60.6L42.3,58.3L43.3,55.7L43.9,53.0L44.3,50.0L44.4,47.0L44.0,44.0L43.3,40.9L42.1,37.9L40.3,34.9L37.8,32.1L34.5,29.9L31.0,28.7L27.8,28.4L24.8,28.7L22.1,29.4L19.6,30.3L17.3,31.4L15.2,32.6L13.4,33.9L11.6,35.2L10.0,36.6L8.5,38.0L7.1,39.5L5.8,41.0L4.6,42.5L3.5,44.0L2.4,45.6L1.4,47.1L0.4,48.7L-0.5,50.2L-1.4,51.7L-2.1,53.2L-2.6,54.3L-2.6,55.6L-2.2,56.7L-1.3,57.6L-0.2,58.1L1.1,58.1L2.2,57.7Z"/><circle cx="33" cy="8" r="10.4"/></g><text transform="matrix(0.1923,0,0,0.1655,704.33,47.07)" font-family="Liberation Serif, serif" font-style="italic" font-size="100" stroke="#000" stroke-width="3.2" stroke-linejoin="round">d</text><text transform="matrix(0.2069,0,0,0.2830,722.43,41.19)" font-family="Liberation Serif, serif" font-size="100" stroke="#000" stroke-width="3.5" stroke-linejoin="round">(</text><g transform="matrix(0.1247,0,0,0.1166,731.91,29.10)"><path d="M8.3,37.7L8.8,36.2L9.4,34.7L10.0,33.1L10.6,31.6L11.3,30.0L12.1,28.5L13.0,27.0L13.9,25.5L14.9,24.0L15.9,22.6L17.0,21.2L18.1,19.8L19.3,18.6L20.5,17.4L21.7,16.3L23.0,15.3L24.4,14.4L25.7,13.6L27.1,12.9L28.4,12.3L29.8,11.8L31.2,11.5L32.6,11.3L34.0,11.2L35.3,11.3L36.7,11.4L38.0,11.7L39.3,12.1L40.5,12.6L41.6,13.2L42.6,13.8L43.4,14.5L44.1,15.3L44.6,16.0L45.0,16.8L45.4,17.6L45.8,18.6L46.1,19.6L46.4,20.7L46.7,21.9L46.9,23.1L47.1,24.4L47.2,25.7L47.3,27.0L47.4,28.3L47.4,29.6L47.4,31.0L47.3,32.3L47.2,33.7L47.1,35.2L46.9,36.7L46.7,38.2L46.5,39.8L46.3,41.4L46.0,43.0L45.6,44.7L45.3,46.4L44.9,48.2L44.5,50.0L44.1,51.8L43.8,53.7L43.4,55.6L43.0,57.6L42.7,59.6L42.4,61.6L42.2,63.7L42.0,65.9L42.0,68.1L42.0,70.4L42.1,72.7L42.3,75.1L42.7,77.4L43.2,79.9L43.8,82.3L44.6,84.8L45.7,87.3L46.9,89.8L48.5,92.3L50.3,94.6L52.5,96.7L54.9,98.6L57.5,100.1L60.1,101.2L62.7,101.9L65.2,102.5L67.8,102.8L70.3,102.9L72.7,102.8L75.1,102.6L77.4,102.2L79.7,101.8L81.9,101.2L83.9,100.5L86.0,99.8L87.9,99.0L89.8,98.1L91.7,97.1L93.4,96.1L95.2,95.1L96.8,94.0L98.5,92.8L100.1,91.7L101.6,90.5L103.2,89.2L104.7,87.9L106.1,86.6L107.5,85.3L108.9,84.0L110.3,82.6L111.6,81.2L112.9,79.8L114.2,78.4L115.5,76.9L116.7,75.5L118.0,74.0L119.1,72.6L120.3,71.1L121.5,69.7L122.6,68.2L123.3,67.0L123.4,65.7L123.0,64.4L122.2,63.4L121.0,62.7L119.7,62.6L118.4,63.0L117.4,63.8L116.2,65.1L114.9,66.5L113.7,67.8L112.4,69.1L111.2,70.4L109.9,71.6L108.6,72.9L107.2,74.1L105.9,75.3L104.6,76.5L103.2,77.6L101.8,78.8L100.4,79.8L99.0,80.9L97.6,81.9L96.1,82.8L94.7,83.7L93.2,84.6L91.7,85.4L90.2,86.2L88.6,86.9L87.1,87.6L85.6,88.1L84.0,88.6L82.5,89.0L80.9,89.3L79.4,89.5L77.9,89.6L76.4,89.6L74.9,89.4L73.4,89.1L72.0,88.7L70.7,88.2L69.4,87.6L68.4,86.9L67.6,86.2L67.0,85.5L66.6,84.8L66.5,84.1L66.4,83.5L66.3,82.7L66.3,81.8L66.2,80.7L66.2,79.5L66.3,78.2L66.3,76.9L66.4,75.4L66.5,74.0L66.6,72.5L66.8,71.1L67.0,69.6L67.2,68.1L67.4,66.6L67.6,65.1L67.9,63.5L68.1,61.9L68.4,60.3L68.8,58.6L69.1,56.9L69.4,55.1L69.8,53.3L70.2,51.4L70.5,49.5L70.9,47.5L71.2,45.5L71.5,43.4L71.8,41.3L72.0,39.2L72.2,37.0L72.2,34.7L72.2,32.4L72.1,30.1L71.9,27.7L71.5,25.3L71.0,22.9L70.4,20.5L69.6,18.0L68.6,15.6L67.5,13.3L66.2,11.0L64.7,8.7L63.0,6.6L61.1,4.5L59.0,2.7L56.7,1.0L54.2,-0.4L51.6,-1.6L49.0,-2.4L46.4,-3.0L43.8,-3.3L41.3,-3.5L38.7,-3.4L36.3,-3.1L33.8,-2.7L31.4,-2.1L29.2,-1.4L27.0,-0.5L24.9,0.6L22.9,1.7L21.1,3.0L19.3,4.3L17.6,5.8L16.0,7.3L14.5,8.9L13.1,10.5L11.7,12.2L10.5,14.0L9.3,15.7L8.2,17.6L7.2,19.4L6.2,21.3L5.4,23.2L4.6,25.1L3.9,27.0L3.3,28.9L2.7,30.8L2.3,32.6L1.9,34.5L1.7,36.3L1.6,37.7L2.2,38.9L3.1,39.8L4.3,40.3L5.7,40.4L6.9,39.8L7.8,38.9Z"/><path d="M67.0,26.3L67.2,24.9L67.5,23.6L67.9,22.2L68.4,20.9L69.0,19.7L69.6,18.4L70.4,17.2L71.2,16.1L72.1,15.0L73.0,14.0L74.1,13.0L75.1,12.1L76.3,11.3L77.4,10.6L78.6,9.9L79.9,9.3L81.2,8.8L82.5,8.4L83.8,8.1L85.2,7.9L86.5,7.8L87.9,7.7L89.2,7.8L90.6,8.0L91.8,8.3L93.0,8.7L94.2,9.2L95.3,9.8L96.4,10.5L97.4,11.3L98.4,12.2L99.2,13.1L100.0,14.2L100.6,15.2L101.1,16.3L101.5,17.5L101.8,18.6L102.0,19.8L102.0,20.9L102.8,23.1L104.4,24.9L106.5,25.9L108.9,26.0L111.1,25.2L112.9,23.6L113.9,21.5L114.0,19.1L113.4,16.9L112.6,14.9L111.6,12.9L110.5,11.1L109.3,9.4L108.0,7.7L106.5,6.2L105.0,4.9L103.3,3.6L101.6,2.5L99.8,1.5L97.9,0.6L96.0,-0.1L94.0,-0.6L92.0,-0.9L90.0,-1.1L88.0,-1.2L86.0,-1.1L84.0,-0.9L82.0,-0.5L80.1,-0.0L78.2,0.6L76.4,1.3L74.6,2.2L72.9,3.2L71.3,4.2L69.8,5.4L68.3,6.7L66.9,8.1L65.6,9.5L64.4,11.0L63.3,12.6L62.3,14.3L61.4,16.1L60.7,17.9L60.0,19.8L59.5,21.7L59.2,23.7L59.0,25.7L59.2,27.2L59.9,28.6L61.2,29.6L62.7,30.0L64.2,29.8L65.6,29.1L66.6,27.8Z"/><path d="M48.3,84.4L47.8,85.3L47.2,86.2L46.5,87.1L45.8,88.0L45.0,88.8L44.1,89.6L43.2,90.3L42.3,91.0L41.3,91.7L40.2,92.2L39.2,92.7L38.1,93.2L37.0,93.5L35.9,93.8L34.8,94.0L33.7,94.1L32.7,94.1L31.6,94.1L30.6,93.9L29.5,93.7L28.4,93.4L27.4,93.0L26.3,92.5L25.1,92.0L24.0,91.4L22.9,90.7L21.8,90.1L20.8,89.3L19.9,88.6L19.1,87.8L18.4,87.1L17.9,86.3L17.5,85.6L17.3,84.9L17.2,84.3L17.2,83.6L17.3,83.0L17.5,82.3L17.9,81.5L18.0,79.1L17.2,76.9L15.7,75.1L13.5,74.1L11.1,74.0L8.9,74.8L7.1,76.3L6.1,78.5L5.9,80.9L5.9,83.2L6.3,85.4L7.0,87.4L7.8,89.3L8.8,91.0L10.0,92.5L11.3,93.8L12.6,95.0L14.0,96.1L15.4,97.1L16.9,98.0L18.3,98.8L19.7,99.6L21.2,100.3L22.7,100.9L24.3,101.5L25.9,102.0L27.5,102.4L29.2,102.7L30.9,102.8L32.7,102.9L34.4,102.8L36.1,102.6L37.8,102.3L39.5,101.8L41.1,101.3L42.7,100.6L44.2,99.8L45.7,99.0L47.1,98.0L48.5,97.0L49.8,95.9L51.0,94.7L52.1,93.4L53.2,92.1L54.1,90.7L55.0,89.2L55.7,87.6L56.0,86.1L55.8,84.6L54.9,83.2L53.6,82.3L52.1,82.0L50.6,82.2L49.2,83.1Z"/><circle cx="108" cy="26" r="14.0"/><circle cx="15.5" cy="79" r="14.0"/></g><text transform="matrix(0.2085,0,0,0.2830,750.79,41.19)" font-family="Liberation Serif, serif" font-size="100" stroke="#000" stroke-width="3.5" stroke-linejoin="round">)</text>
<text transform="matrix(0.2777,0,0,0.2653,656.95,94.97)" font-family="Liberation Serif, serif" font-style="italic" font-size="100" stroke="#000" stroke-width="3.5" stroke-linejoin="round">δ</text><g transform="matrix(0.1081,0,0,0.1124,672.29,72.77)"><path d="M3.1,56.8L4.3,55.5L5.4,54.1L6.4,52.7L7.4,51.2L8.4,49.8L9.4,48.5L10.5,47.2L11.6,46.0L12.7,44.9L13.8,43.9L15.0,43.1L16.3,42.4L17.6,41.9L19.0,41.6L20.4,41.5L21.8,41.7L23.2,42.1L24.2,42.7L24.9,43.4L25.1,44.0L24.6,44.4L23.9,44.5L23.4,44.5L23.1,44.9L23.0,45.4L22.8,46.1L22.6,46.8L22.4,47.4L22.2,48.0L22.0,48.7L21.6,49.4L21.2,50.2L20.7,51.1L20.0,52.1L19.3,53.2L18.4,54.4L17.4,55.6L16.3,56.9L15.2,58.3L13.9,59.7L12.6,61.2L11.3,62.7L10.0,64.3L8.7,66.1L7.4,67.9L6.2,69.9L5.1,72.0L4.1,74.3L3.3,76.7L2.7,79.3L2.4,81.9L2.4,84.7L2.6,87.5L3.3,90.4L4.3,93.3L5.8,96.2L8.0,98.9L10.7,101.1L13.6,102.5L16.5,103.2L19.2,103.5L21.8,103.5L24.4,103.1L26.8,102.5L29.0,101.7L31.1,100.7L33.1,99.5L34.9,98.2L36.5,96.8L38.1,95.2L39.5,93.5L40.7,91.8L41.9,90.0L42.9,88.2L43.7,86.3L44.4,84.3L44.9,82.4L45.3,80.5L45.5,78.6L45.4,77.3L44.9,76.0L43.9,75.0L42.6,74.5L41.3,74.6L40.0,75.1L39.0,76.1L38.5,77.4L38.0,78.7L37.5,80.1L36.8,81.5L36.2,82.9L35.4,84.3L34.6,85.6L33.7,86.9L32.8,88.2L31.7,89.3L30.7,90.3L29.5,91.2L28.4,91.9L27.2,92.4L26.0,92.8L24.7,92.9L23.5,92.9L22.3,92.6L21.2,92.2L20.3,91.6L19.8,90.9L19.8,90.3L20.2,90.0L20.7,89.8L21.1,89.3L21.5,88.6L22.0,87.7L22.5,86.8L23.0,85.8L23.5,84.9L24.0,84.1L24.5,83.2L25.0,82.4L25.6,81.4L26.3,80.4L27.0,79.3L27.9,78.2L28.8,76.9L29.8,75.7L30.9,74.4L32.1,73.0L33.3,71.6L34.6,70.0L36.0,68.4L37.3,66.7L38.7,64.8L40.0,62.8L41.2,60.6L42.3,58.3L43.3,55.7L43.9,53.0L44.3,50.0L44.4,47.0L44.0,44.0L43.3,40.9L42.1,37.9L40.3,34.9L37.8,32.1L34.5,29.9L31.0,28.7L27.8,28.4L24.8,28.7L22.1,29.4L19.6,30.3L17.3,31.4L15.2,32.6L13.4,33.9L11.6,35.2L10.0,36.6L8.5,38.0L7.1,39.5L5.8,41.0L4.6,42.5L3.5,44.0L2.4,45.6L1.4,47.1L0.4,48.7L-0.5,50.2L-1.4,51.7L-2.1,53.2L-2.6,54.3L-2.6,55.6L-2.2,56.7L-1.3,57.6L-0.2,58.1L1.1,58.1L2.2,57.7Z"/><circle cx="33" cy="8" r="10.4"/></g><g transform="matrix(0.2176,0,0,0.2023,680.92,76.86)"><path d="M73.1,6.3L72.6,7.5L72.2,8.6L71.7,9.7L71.3,10.9L70.9,12.0L70.5,13.2L70.0,14.3L69.6,15.5L69.2,16.6L68.8,17.8L68.4,18.9L68.0,20.1L67.7,21.2L67.3,22.3L66.9,23.5L66.5,24.6L66.1,25.8L65.8,26.9L65.4,28.0L65.0,29.2L64.7,30.3L64.3,31.4L63.9,32.6L63.5,33.7L63.2,34.8L62.8,35.9L62.4,37.1L62.1,38.2L61.7,39.3L61.3,40.4L60.9,41.5L60.5,42.6L60.1,43.7L59.7,44.8L59.3,45.9L58.9,46.9L58.5,48.0L58.1,49.1L57.7,50.2L57.3,51.2L56.8,52.3L56.4,53.4L56.0,54.4L55.5,55.5L55.1,56.5L54.6,57.6L54.1,58.6L53.7,59.6L53.2,60.7L52.7,61.7L52.2,62.8L51.7,63.8L51.2,64.8L50.7,65.9L50.2,66.9L49.6,67.9L49.1,68.9L48.6,69.9L48.1,70.9L47.5,71.8L47.0,72.8L46.4,73.7L45.9,74.6L45.3,75.5L44.7,76.3L44.1,77.2L43.5,78.0L42.9,78.8L42.3,79.5L41.6,80.2L41.0,80.9L40.3,81.6L39.6,82.3L38.9,82.9L38.1,83.5L37.4,84.1L36.6,84.6L35.8,85.2L35.0,85.7L34.1,86.1L33.3,86.6L32.4,87.0L31.5,87.4L30.6,87.7L29.7,88.0L28.8,88.3L27.9,88.6L26.9,88.8L26.0,89.0L25.0,89.1L24.1,89.2L23.2,89.3L22.3,89.3L21.4,89.2L20.5,89.1L19.7,89.0L19.0,88.8L18.3,88.5L17.7,88.2L17.1,87.9L16.7,87.5L16.2,87.0L15.9,86.5L15.5,85.9L15.2,85.3L15.0,84.7L14.8,84.1L14.6,83.5L14.5,82.9L14.5,82.4L14.4,81.9L14.4,81.5L14.3,81.2L14.3,80.9L14.2,80.6L14.1,80.3L13.9,79.9L13.8,79.4L13.8,78.7L15.2,76.5L15.7,74.0L15.2,71.4L13.7,69.2L11.5,67.8L9.0,67.3L6.4,67.8L4.2,69.3L2.4,70.6L0.9,72.2L-0.4,74.1L-1.4,76.0L-2.0,78.1L-2.3,80.2L-2.4,82.3L-2.2,84.3L-1.8,86.3L-1.2,88.1L-0.4,89.9L0.6,91.6L1.6,93.1L2.8,94.6L4.1,95.9L5.5,97.2L6.9,98.3L8.5,99.4L10.1,100.3L11.7,101.0L13.3,101.7L14.9,102.2L16.5,102.6L18.2,103.0L19.8,103.2L21.4,103.4L23.0,103.5L24.6,103.5L26.2,103.5L27.8,103.3L29.3,103.2L30.8,102.9L32.3,102.6L33.8,102.3L35.3,101.9L36.7,101.4L38.1,100.9L39.5,100.3L40.9,99.7L42.2,99.0L43.5,98.3L44.8,97.6L46.1,96.8L47.3,96.0L48.5,95.1L49.6,94.2L50.7,93.3L51.8,92.3L52.9,91.3L53.9,90.3L54.9,89.2L55.8,88.2L56.8,87.1L57.6,86.0L58.5,84.9L59.3,83.8L60.1,82.7L60.9,81.6L61.6,80.4L62.3,79.3L63.0,78.1L63.7,77.0L64.4,75.9L65.0,74.7L65.6,73.6L66.2,72.5L66.8,71.3L67.4,70.2L67.9,69.0L68.5,67.9L69.0,66.7L69.6,65.6L70.1,64.4L70.6,63.2L71.1,62.1L71.6,60.9L72.0,59.7L72.5,58.6L73.0,57.4L73.4,56.2L73.8,55.0L74.3,53.8L74.7,52.6L75.1,51.4L75.5,50.2L75.9,49.0L76.3,47.8L76.6,46.7L77.0,45.5L77.4,44.3L77.7,43.1L78.1,41.9L78.4,40.7L78.7,39.5L79.0,38.3L79.3,37.1L79.6,35.9L79.9,34.7L80.2,33.5L80.5,32.3L80.8,31.1L81.1,29.9L81.3,28.7L81.6,27.5L81.8,26.3L82.1,25.1L82.3,23.9L82.6,22.7L82.8,21.5L83.0,20.3L83.3,19.1L83.5,18.0L83.7,16.8L83.9,15.6L84.1,14.4L84.3,13.2L84.5,12.0L84.7,10.9L84.9,9.7L85.1,7.3L84.4,5.0L82.8,3.2L80.7,2.1L78.3,1.9L76.0,2.6L74.2,4.2Z"/><path d="M99.2,1.7L98.4,1.8L97.6,1.9L96.8,2.0L96.1,2.1L95.3,2.2L94.5,2.2L93.8,2.3L93.0,2.3L92.3,2.4L91.6,2.4L90.8,2.5L90.1,2.5L89.4,2.5L88.7,2.5L88.0,2.5L87.3,2.6L86.6,2.6L85.9,2.6L85.2,2.6L84.5,2.5L83.8,2.5L83.2,2.5L82.5,2.5L81.8,2.5L81.2,2.4L80.5,2.4L79.8,2.3L79.2,2.3L78.5,2.2L77.9,2.2L77.3,2.1L76.6,2.0L76.0,1.9L75.4,1.9L74.7,1.8L74.1,1.7L73.5,1.5L72.8,1.4L72.2,1.3L71.5,1.2L70.8,1.0L70.1,0.9L69.4,0.8L68.6,0.6L67.9,0.5L67.1,0.3L66.3,0.2L65.5,0.1L64.7,-0.1L63.9,-0.2L63.0,-0.3L62.1,-0.4L61.2,-0.5L60.3,-0.6L59.4,-0.7L58.5,-0.8L57.5,-0.8L56.6,-0.8L55.6,-0.8L54.7,-0.8L53.7,-0.7L52.7,-0.6L51.8,-0.5L50.8,-0.4L49.8,-0.2L48.8,-0.0L47.9,0.2L46.9,0.5L45.9,0.8L45.0,1.1L44.0,1.5L43.1,1.9L42.1,2.3L41.2,2.8L40.3,3.4L39.5,3.9L38.7,4.6L37.9,5.2L37.1,5.8L36.4,6.5L35.7,7.2L35.1,7.9L34.5,8.6L33.9,9.3L33.3,10.1L32.7,10.8L32.2,11.5L31.7,12.3L31.2,13.0L30.7,13.8L30.2,14.5L29.7,15.3L29.2,16.0L28.8,16.8L28.3,17.6L27.9,18.4L27.4,19.2L27.0,20.0L26.5,20.8L26.1,21.7L25.7,22.5L25.3,23.4L25.0,24.3L24.7,25.3L24.4,26.2L24.2,27.2L24.0,28.2L23.9,29.2L23.9,30.3L23.9,31.3L24.0,32.4L24.2,33.4L24.4,34.5L24.8,35.5L25.2,36.5L25.7,37.5L26.3,38.5L27.0,39.4L27.8,40.2L28.8,41.3L30.3,41.9L31.8,41.8L33.2,41.2L34.3,40.2L34.9,38.7L34.8,37.2L34.2,35.8L34.1,35.2L34.0,34.6L33.9,34.1L33.9,33.6L33.9,33.2L33.9,32.8L34.0,32.3L34.0,31.9L34.1,31.5L34.2,31.1L34.3,30.6L34.4,30.2L34.5,29.7L34.7,29.2L34.9,28.7L35.1,28.1L35.4,27.6L35.6,27.0L35.9,26.5L36.2,25.9L36.5,25.3L36.9,24.7L37.3,24.1L37.7,23.5L38.1,22.9L38.5,22.3L39.0,21.7L39.4,21.1L39.9,20.5L40.4,20.0L40.8,19.5L41.3,19.0L41.8,18.5L42.3,18.1L42.7,17.7L43.2,17.3L43.7,16.9L44.2,16.6L44.6,16.2L45.1,15.9L45.6,15.7L46.0,15.4L46.5,15.2L46.9,15.0L47.3,14.9L47.8,14.7L48.3,14.5L48.8,14.4L49.3,14.3L49.8,14.1L50.3,14.0L50.9,13.9L51.4,13.9L52.0,13.8L52.6,13.7L53.2,13.7L53.8,13.7L54.4,13.6L55.0,13.6L55.6,13.6L56.3,13.7L56.9,13.7L57.5,13.8L58.2,13.8L58.8,13.9L59.4,14.0L60.1,14.1L60.8,14.2L61.4,14.3L62.1,14.5L62.8,14.6L63.6,14.8L64.3,14.9L65.0,15.0L65.8,15.2L66.6,15.3L67.3,15.5L68.1,15.6L69.0,15.8L69.8,15.9L70.7,16.0L71.5,16.1L72.4,16.2L73.3,16.2L74.2,16.3L75.1,16.3L76.0,16.3L76.9,16.3L77.8,16.2L78.8,16.2L79.7,16.1L80.5,15.9L81.4,15.8L82.3,15.6L83.2,15.5L84.1,15.2L85.0,15.0L85.8,14.8L86.7,14.5L87.5,14.2L88.4,13.8L89.2,13.5L90.0,13.1L90.8,12.7L91.6,12.3L92.4,11.9L93.1,11.4L93.9,10.9L94.6,10.4L95.3,9.9L96.0,9.4L96.7,8.8L97.3,8.2L98.0,7.6L98.6,7.0L99.2,6.3L99.7,5.7L100.3,5.0L100.8,4.3L101.2,3.9L101.5,3.3L101.5,2.8L101.3,2.2L100.9,1.8L100.3,1.5L99.8,1.5Z"/></g><g transform="matrix(0.1081,0,0,0.1124,705.09,72.77)"><path d="M3.1,56.8L4.3,55.5L5.4,54.1L6.4,52.7L7.4,51.2L8.4,49.8L9.4,48.5L10.5,47.2L11.6,46.0L12.7,44.9L13.8,43.9L15.0,43.1L16.3,42.4L17.6,41.9L19.0,41.6L20.4,41.5L21.8,41.7L23.2,42.1L24.2,42.7L24.9,43.4L25.1,44.0L24.6,44.4L23.9,44.5L23.4,44.5L23.1,44.9L23.0,45.4L22.8,46.1L22.6,46.8L22.4,47.4L22.2,48.0L22.0,48.7L21.6,49.4L21.2,50.2L20.7,51.1L20.0,52.1L19.3,53.2L18.4,54.4L17.4,55.6L16.3,56.9L15.2,58.3L13.9,59.7L12.6,61.2L11.3,62.7L10.0,64.3L8.7,66.1L7.4,67.9L6.2,69.9L5.1,72.0L4.1,74.3L3.3,76.7L2.7,79.3L2.4,81.9L2.4,84.7L2.6,87.5L3.3,90.4L4.3,93.3L5.8,96.2L8.0,98.9L10.7,101.1L13.6,102.5L16.5,103.2L19.2,103.5L21.8,103.5L24.4,103.1L26.8,102.5L29.0,101.7L31.1,100.7L33.1,99.5L34.9,98.2L36.5,96.8L38.1,95.2L39.5,93.5L40.7,91.8L41.9,90.0L42.9,88.2L43.7,86.3L44.4,84.3L44.9,82.4L45.3,80.5L45.5,78.6L45.4,77.3L44.9,76.0L43.9,75.0L42.6,74.5L41.3,74.6L40.0,75.1L39.0,76.1L38.5,77.4L38.0,78.7L37.5,80.1L36.8,81.5L36.2,82.9L35.4,84.3L34.6,85.6L33.7,86.9L32.8,88.2L31.7,89.3L30.7,90.3L29.5,91.2L28.4,91.9L27.2,92.4L26.0,92.8L24.7,92.9L23.5,92.9L22.3,92.6L21.2,92.2L20.3,91.6L19.8,90.9L19.8,90.3L20.2,90.0L20.7,89.8L21.1,89.3L21.5,88.6L22.0,87.7L22.5,86.8L23.0,85.8L23.5,84.9L24.0,84.1L24.5,83.2L25.0,82.4L25.6,81.4L26.3,80.4L27.0,79.3L27.9,78.2L28.8,76.9L29.8,75.7L30.9,74.4L32.1,73.0L33.3,71.6L34.6,70.0L36.0,68.4L37.3,66.7L38.7,64.8L40.0,62.8L41.2,60.6L42.3,58.3L43.3,55.7L43.9,53.0L44.3,50.0L44.4,47.0L44.0,44.0L43.3,40.9L42.1,37.9L40.3,34.9L37.8,32.1L34.5,29.9L31.0,28.7L27.8,28.4L24.8,28.7L22.1,29.4L19.6,30.3L17.3,31.4L15.2,32.6L13.4,33.9L11.6,35.2L10.0,36.6L8.5,38.0L7.1,39.5L5.8,41.0L4.6,42.5L3.5,44.0L2.4,45.6L1.4,47.1L0.4,48.7L-0.5,50.2L-1.4,51.7L-2.1,53.2L-2.6,54.3L-2.6,55.6L-2.2,56.7L-1.3,57.6L-0.2,58.1L1.1,58.1L2.2,57.7Z"/><circle cx="33" cy="8" r="10.4"/></g><text transform="matrix(0.2227,0,0,0.1566,704.74,101.25)" font-family="Liberation Serif, serif" font-style="italic" font-size="100" stroke="#000" stroke-width="3.2" stroke-linejoin="round">u</text><text transform="matrix(0.2069,0,0,0.2830,722.43,95.49)" font-family="Liberation Serif, serif" font-size="100" stroke="#000" stroke-width="3.5" stroke-linejoin="round">(</text><g transform="matrix(0.1247,0,0,0.1166,731.91,83.40)"><path d="M8.3,37.7L8.8,36.2L9.4,34.7L10.0,33.1L10.6,31.6L11.3,30.0L12.1,28.5L13.0,27.0L13.9,25.5L14.9,24.0L15.9,22.6L17.0,21.2L18.1,19.8L19.3,18.6L20.5,17.4L21.7,16.3L23.0,15.3L24.4,14.4L25.7,13.6L27.1,12.9L28.4,12.3L29.8,11.8L31.2,11.5L32.6,11.3L34.0,11.2L35.3,11.3L36.7,11.4L38.0,11.7L39.3,12.1L40.5,12.6L41.6,13.2L42.6,13.8L43.4,14.5L44.1,15.3L44.6,16.0L45.0,16.8L45.4,17.6L45.8,18.6L46.1,19.6L46.4,20.7L46.7,21.9L46.9,23.1L47.1,24.4L47.2,25.7L47.3,27.0L47.4,28.3L47.4,29.6L47.4,31.0L47.3,32.3L47.2,33.7L47.1,35.2L46.9,36.7L46.7,38.2L46.5,39.8L46.3,41.4L46.0,43.0L45.6,44.7L45.3,46.4L44.9,48.2L44.5,50.0L44.1,51.8L43.8,53.7L43.4,55.6L43.0,57.6L42.7,59.6L42.4,61.6L42.2,63.7L42.0,65.9L42.0,68.1L42.0,70.4L42.1,72.7L42.3,75.1L42.7,77.4L43.2,79.9L43.8,82.3L44.6,84.8L45.7,87.3L46.9,89.8L48.5,92.3L50.3,94.6L52.5,96.7L54.9,98.6L57.5,100.1L60.1,101.2L62.7,101.9L65.2,102.5L67.8,102.8L70.3,102.9L72.7,102.8L75.1,102.6L77.4,102.2L79.7,101.8L81.9,101.2L83.9,100.5L86.0,99.8L87.9,99.0L89.8,98.1L91.7,97.1L93.4,96.1L95.2,95.1L96.8,94.0L98.5,92.8L100.1,91.7L101.6,90.5L103.2,89.2L104.7,87.9L106.1,86.6L107.5,85.3L108.9,84.0L110.3,82.6L111.6,81.2L112.9,79.8L114.2,78.4L115.5,76.9L116.7,75.5L118.0,74.0L119.1,72.6L120.3,71.1L121.5,69.7L122.6,68.2L123.3,67.0L123.4,65.7L123.0,64.4L122.2,63.4L121.0,62.7L119.7,62.6L118.4,63.0L117.4,63.8L116.2,65.1L114.9,66.5L113.7,67.8L112.4,69.1L111.2,70.4L109.9,71.6L108.6,72.9L107.2,74.1L105.9,75.3L104.6,76.5L103.2,77.6L101.8,78.8L100.4,79.8L99.0,80.9L97.6,81.9L96.1,82.8L94.7,83.7L93.2,84.6L91.7,85.4L90.2,86.2L88.6,86.9L87.1,87.6L85.6,88.1L84.0,88.6L82.5,89.0L80.9,89.3L79.4,89.5L77.9,89.6L76.4,89.6L74.9,89.4L73.4,89.1L72.0,88.7L70.7,88.2L69.4,87.6L68.4,86.9L67.6,86.2L67.0,85.5L66.6,84.8L66.5,84.1L66.4,83.5L66.3,82.7L66.3,81.8L66.2,80.7L66.2,79.5L66.3,78.2L66.3,76.9L66.4,75.4L66.5,74.0L66.6,72.5L66.8,71.1L67.0,69.6L67.2,68.1L67.4,66.6L67.6,65.1L67.9,63.5L68.1,61.9L68.4,60.3L68.8,58.6L69.1,56.9L69.4,55.1L69.8,53.3L70.2,51.4L70.5,49.5L70.9,47.5L71.2,45.5L71.5,43.4L71.8,41.3L72.0,39.2L72.2,37.0L72.2,34.7L72.2,32.4L72.1,30.1L71.9,27.7L71.5,25.3L71.0,22.9L70.4,20.5L69.6,18.0L68.6,15.6L67.5,13.3L66.2,11.0L64.7,8.7L63.0,6.6L61.1,4.5L59.0,2.7L56.7,1.0L54.2,-0.4L51.6,-1.6L49.0,-2.4L46.4,-3.0L43.8,-3.3L41.3,-3.5L38.7,-3.4L36.3,-3.1L33.8,-2.7L31.4,-2.1L29.2,-1.4L27.0,-0.5L24.9,0.6L22.9,1.7L21.1,3.0L19.3,4.3L17.6,5.8L16.0,7.3L14.5,8.9L13.1,10.5L11.7,12.2L10.5,14.0L9.3,15.7L8.2,17.6L7.2,19.4L6.2,21.3L5.4,23.2L4.6,25.1L3.9,27.0L3.3,28.9L2.7,30.8L2.3,32.6L1.9,34.5L1.7,36.3L1.6,37.7L2.2,38.9L3.1,39.8L4.3,40.3L5.7,40.4L6.9,39.8L7.8,38.9Z"/><path d="M67.0,26.3L67.2,24.9L67.5,23.6L67.9,22.2L68.4,20.9L69.0,19.7L69.6,18.4L70.4,17.2L71.2,16.1L72.1,15.0L73.0,14.0L74.1,13.0L75.1,12.1L76.3,11.3L77.4,10.6L78.6,9.9L79.9,9.3L81.2,8.8L82.5,8.4L83.8,8.1L85.2,7.9L86.5,7.8L87.9,7.7L89.2,7.8L90.6,8.0L91.8,8.3L93.0,8.7L94.2,9.2L95.3,9.8L96.4,10.5L97.4,11.3L98.4,12.2L99.2,13.1L100.0,14.2L100.6,15.2L101.1,16.3L101.5,17.5L101.8,18.6L102.0,19.8L102.0,20.9L102.8,23.1L104.4,24.9L106.5,25.9L108.9,26.0L111.1,25.2L112.9,23.6L113.9,21.5L114.0,19.1L113.4,16.9L112.6,14.9L111.6,12.9L110.5,11.1L109.3,9.4L108.0,7.7L106.5,6.2L105.0,4.9L103.3,3.6L101.6,2.5L99.8,1.5L97.9,0.6L96.0,-0.1L94.0,-0.6L92.0,-0.9L90.0,-1.1L88.0,-1.2L86.0,-1.1L84.0,-0.9L82.0,-0.5L80.1,-0.0L78.2,0.6L76.4,1.3L74.6,2.2L72.9,3.2L71.3,4.2L69.8,5.4L68.3,6.7L66.9,8.1L65.6,9.5L64.4,11.0L63.3,12.6L62.3,14.3L61.4,16.1L60.7,17.9L60.0,19.8L59.5,21.7L59.2,23.7L59.0,25.7L59.2,27.2L59.9,28.6L61.2,29.6L62.7,30.0L64.2,29.8L65.6,29.1L66.6,27.8Z"/><path d="M48.3,84.4L47.8,85.3L47.2,86.2L46.5,87.1L45.8,88.0L45.0,88.8L44.1,89.6L43.2,90.3L42.3,91.0L41.3,91.7L40.2,92.2L39.2,92.7L38.1,93.2L37.0,93.5L35.9,93.8L34.8,94.0L33.7,94.1L32.7,94.1L31.6,94.1L30.6,93.9L29.5,93.7L28.4,93.4L27.4,93.0L26.3,92.5L25.1,92.0L24.0,91.4L22.9,90.7L21.8,90.1L20.8,89.3L19.9,88.6L19.1,87.8L18.4,87.1L17.9,86.3L17.5,85.6L17.3,84.9L17.2,84.3L17.2,83.6L17.3,83.0L17.5,82.3L17.9,81.5L18.0,79.1L17.2,76.9L15.7,75.1L13.5,74.1L11.1,74.0L8.9,74.8L7.1,76.3L6.1,78.5L5.9,80.9L5.9,83.2L6.3,85.4L7.0,87.4L7.8,89.3L8.8,91.0L10.0,92.5L11.3,93.8L12.6,95.0L14.0,96.1L15.4,97.1L16.9,98.0L18.3,98.8L19.7,99.6L21.2,100.3L22.7,100.9L24.3,101.5L25.9,102.0L27.5,102.4L29.2,102.7L30.9,102.8L32.7,102.9L34.4,102.8L36.1,102.6L37.8,102.3L39.5,101.8L41.1,101.3L42.7,100.6L44.2,99.8L45.7,99.0L47.1,98.0L48.5,97.0L49.8,95.9L51.0,94.7L52.1,93.4L53.2,92.1L54.1,90.7L55.0,89.2L55.7,87.6L56.0,86.1L55.8,84.6L54.9,83.2L53.6,82.3L52.1,82.0L50.6,82.2L49.2,83.1Z"/><circle cx="108" cy="26" r="14.0"/><circle cx="15.5" cy="79" r="14.0"/></g><text transform="matrix(0.2085,0,0,0.2830,750.79,95.49)" font-family="Liberation Serif, serif" font-size="100" stroke="#000" stroke-width="3.5" stroke-linejoin="round">)</text>
<text transform="matrix(0.2777,0,0,0.2653,656.95,150.97)" font-family="Liberation Serif, serif" font-style="italic" font-size="100" stroke="#000" stroke-width="3.5" stroke-linejoin="round">δ</text><g transform="matrix(0.1081,0,0,0.1124,672.29,128.77)"><path d="M3.1,56.8L4.3,55.5L5.4,54.1L6.4,52.7L7.4,51.2L8.4,49.8L9.4,48.5L10.5,47.2L11.6,46.0L12.7,44.9L13.8,43.9L15.0,43.1L16.3,42.4L17.6,41.9L19.0,41.6L20.4,41.5L21.8,41.7L23.2,42.1L24.2,42.7L24.9,43.4L25.1,44.0L24.6,44.4L23.9,44.5L23.4,44.5L23.1,44.9L23.0,45.4L22.8,46.1L22.6,46.8L22.4,47.4L22.2,48.0L22.0,48.7L21.6,49.4L21.2,50.2L20.7,51.1L20.0,52.1L19.3,53.2L18.4,54.4L17.4,55.6L16.3,56.9L15.2,58.3L13.9,59.7L12.6,61.2L11.3,62.7L10.0,64.3L8.7,66.1L7.4,67.9L6.2,69.9L5.1,72.0L4.1,74.3L3.3,76.7L2.7,79.3L2.4,81.9L2.4,84.7L2.6,87.5L3.3,90.4L4.3,93.3L5.8,96.2L8.0,98.9L10.7,101.1L13.6,102.5L16.5,103.2L19.2,103.5L21.8,103.5L24.4,103.1L26.8,102.5L29.0,101.7L31.1,100.7L33.1,99.5L34.9,98.2L36.5,96.8L38.1,95.2L39.5,93.5L40.7,91.8L41.9,90.0L42.9,88.2L43.7,86.3L44.4,84.3L44.9,82.4L45.3,80.5L45.5,78.6L45.4,77.3L44.9,76.0L43.9,75.0L42.6,74.5L41.3,74.6L40.0,75.1L39.0,76.1L38.5,77.4L38.0,78.7L37.5,80.1L36.8,81.5L36.2,82.9L35.4,84.3L34.6,85.6L33.7,86.9L32.8,88.2L31.7,89.3L30.7,90.3L29.5,91.2L28.4,91.9L27.2,92.4L26.0,92.8L24.7,92.9L23.5,92.9L22.3,92.6L21.2,92.2L20.3,91.6L19.8,90.9L19.8,90.3L20.2,90.0L20.7,89.8L21.1,89.3L21.5,88.6L22.0,87.7L22.5,86.8L23.0,85.8L23.5,84.9L24.0,84.1L24.5,83.2L25.0,82.4L25.6,81.4L26.3,80.4L27.0,79.3L27.9,78.2L28.8,76.9L29.8,75.7L30.9,74.4L32.1,73.0L33.3,71.6L34.6,70.0L36.0,68.4L37.3,66.7L38.7,64.8L40.0,62.8L41.2,60.6L42.3,58.3L43.3,55.7L43.9,53.0L44.3,50.0L44.4,47.0L44.0,44.0L43.3,40.9L42.1,37.9L40.3,34.9L37.8,32.1L34.5,29.9L31.0,28.7L27.8,28.4L24.8,28.7L22.1,29.4L19.6,30.3L17.3,31.4L15.2,32.6L13.4,33.9L11.6,35.2L10.0,36.6L8.5,38.0L7.1,39.5L5.8,41.0L4.6,42.5L3.5,44.0L2.4,45.6L1.4,47.1L0.4,48.7L-0.5,50.2L-1.4,51.7L-2.1,53.2L-2.6,54.3L-2.6,55.6L-2.2,56.7L-1.3,57.6L-0.2,58.1L1.1,58.1L2.2,57.7Z"/><circle cx="33" cy="8" r="10.4"/></g><g transform="matrix(0.2176,0,0,0.2023,680.92,132.86)"><path d="M73.1,6.3L72.6,7.5L72.2,8.6L71.7,9.7L71.3,10.9L70.9,12.0L70.5,13.2L70.0,14.3L69.6,15.5L69.2,16.6L68.8,17.8L68.4,18.9L68.0,20.1L67.7,21.2L67.3,22.3L66.9,23.5L66.5,24.6L66.1,25.8L65.8,26.9L65.4,28.0L65.0,29.2L64.7,30.3L64.3,31.4L63.9,32.6L63.5,33.7L63.2,34.8L62.8,35.9L62.4,37.1L62.1,38.2L61.7,39.3L61.3,40.4L60.9,41.5L60.5,42.6L60.1,43.7L59.7,44.8L59.3,45.9L58.9,46.9L58.5,48.0L58.1,49.1L57.7,50.2L57.3,51.2L56.8,52.3L56.4,53.4L56.0,54.4L55.5,55.5L55.1,56.5L54.6,57.6L54.1,58.6L53.7,59.6L53.2,60.7L52.7,61.7L52.2,62.8L51.7,63.8L51.2,64.8L50.7,65.9L50.2,66.9L49.6,67.9L49.1,68.9L48.6,69.9L48.1,70.9L47.5,71.8L47.0,72.8L46.4,73.7L45.9,74.6L45.3,75.5L44.7,76.3L44.1,77.2L43.5,78.0L42.9,78.8L42.3,79.5L41.6,80.2L41.0,80.9L40.3,81.6L39.6,82.3L38.9,82.9L38.1,83.5L37.4,84.1L36.6,84.6L35.8,85.2L35.0,85.7L34.1,86.1L33.3,86.6L32.4,87.0L31.5,87.4L30.6,87.7L29.7,88.0L28.8,88.3L27.9,88.6L26.9,88.8L26.0,89.0L25.0,89.1L24.1,89.2L23.2,89.3L22.3,89.3L21.4,89.2L20.5,89.1L19.7,89.0L19.0,88.8L18.3,88.5L17.7,88.2L17.1,87.9L16.7,87.5L16.2,87.0L15.9,86.5L15.5,85.9L15.2,85.3L15.0,84.7L14.8,84.1L14.6,83.5L14.5,82.9L14.5,82.4L14.4,81.9L14.4,81.5L14.3,81.2L14.3,80.9L14.2,80.6L14.1,80.3L13.9,79.9L13.8,79.4L13.8,78.7L15.2,76.5L15.7,74.0L15.2,71.4L13.7,69.2L11.5,67.8L9.0,67.3L6.4,67.8L4.2,69.3L2.4,70.6L0.9,72.2L-0.4,74.1L-1.4,76.0L-2.0,78.1L-2.3,80.2L-2.4,82.3L-2.2,84.3L-1.8,86.3L-1.2,88.1L-0.4,89.9L0.6,91.6L1.6,93.1L2.8,94.6L4.1,95.9L5.5,97.2L6.9,98.3L8.5,99.4L10.1,100.3L11.7,101.0L13.3,101.7L14.9,102.2L16.5,102.6L18.2,103.0L19.8,103.2L21.4,103.4L23.0,103.5L24.6,103.5L26.2,103.5L27.8,103.3L29.3,103.2L30.8,102.9L32.3,102.6L33.8,102.3L35.3,101.9L36.7,101.4L38.1,100.9L39.5,100.3L40.9,99.7L42.2,99.0L43.5,98.3L44.8,97.6L46.1,96.8L47.3,96.0L48.5,95.1L49.6,94.2L50.7,93.3L51.8,92.3L52.9,91.3L53.9,90.3L54.9,89.2L55.8,88.2L56.8,87.1L57.6,86.0L58.5,84.9L59.3,83.8L60.1,82.7L60.9,81.6L61.6,80.4L62.3,79.3L63.0,78.1L63.7,77.0L64.4,75.9L65.0,74.7L65.6,73.6L66.2,72.5L66.8,71.3L67.4,70.2L67.9,69.0L68.5,67.9L69.0,66.7L69.6,65.6L70.1,64.4L70.6,63.2L71.1,62.1L71.6,60.9L72.0,59.7L72.5,58.6L73.0,57.4L73.4,56.2L73.8,55.0L74.3,53.8L74.7,52.6L75.1,51.4L75.5,50.2L75.9,49.0L76.3,47.8L76.6,46.7L77.0,45.5L77.4,44.3L77.7,43.1L78.1,41.9L78.4,40.7L78.7,39.5L79.0,38.3L79.3,37.1L79.6,35.9L79.9,34.7L80.2,33.5L80.5,32.3L80.8,31.1L81.1,29.9L81.3,28.7L81.6,27.5L81.8,26.3L82.1,25.1L82.3,23.9L82.6,22.7L82.8,21.5L83.0,20.3L83.3,19.1L83.5,18.0L83.7,16.8L83.9,15.6L84.1,14.4L84.3,13.2L84.5,12.0L84.7,10.9L84.9,9.7L85.1,7.3L84.4,5.0L82.8,3.2L80.7,2.1L78.3,1.9L76.0,2.6L74.2,4.2Z"/><path d="M99.2,1.7L98.4,1.8L97.6,1.9L96.8,2.0L96.1,2.1L95.3,2.2L94.5,2.2L93.8,2.3L93.0,2.3L92.3,2.4L91.6,2.4L90.8,2.5L90.1,2.5L89.4,2.5L88.7,2.5L88.0,2.5L87.3,2.6L86.6,2.6L85.9,2.6L85.2,2.6L84.5,2.5L83.8,2.5L83.2,2.5L82.5,2.5L81.8,2.5L81.2,2.4L80.5,2.4L79.8,2.3L79.2,2.3L78.5,2.2L77.9,2.2L77.3,2.1L76.6,2.0L76.0,1.9L75.4,1.9L74.7,1.8L74.1,1.7L73.5,1.5L72.8,1.4L72.2,1.3L71.5,1.2L70.8,1.0L70.1,0.9L69.4,0.8L68.6,0.6L67.9,0.5L67.1,0.3L66.3,0.2L65.5,0.1L64.7,-0.1L63.9,-0.2L63.0,-0.3L62.1,-0.4L61.2,-0.5L60.3,-0.6L59.4,-0.7L58.5,-0.8L57.5,-0.8L56.6,-0.8L55.6,-0.8L54.7,-0.8L53.7,-0.7L52.7,-0.6L51.8,-0.5L50.8,-0.4L49.8,-0.2L48.8,-0.0L47.9,0.2L46.9,0.5L45.9,0.8L45.0,1.1L44.0,1.5L43.1,1.9L42.1,2.3L41.2,2.8L40.3,3.4L39.5,3.9L38.7,4.6L37.9,5.2L37.1,5.8L36.4,6.5L35.7,7.2L35.1,7.9L34.5,8.6L33.9,9.3L33.3,10.1L32.7,10.8L32.2,11.5L31.7,12.3L31.2,13.0L30.7,13.8L30.2,14.5L29.7,15.3L29.2,16.0L28.8,16.8L28.3,17.6L27.9,18.4L27.4,19.2L27.0,20.0L26.5,20.8L26.1,21.7L25.7,22.5L25.3,23.4L25.0,24.3L24.7,25.3L24.4,26.2L24.2,27.2L24.0,28.2L23.9,29.2L23.9,30.3L23.9,31.3L24.0,32.4L24.2,33.4L24.4,34.5L24.8,35.5L25.2,36.5L25.7,37.5L26.3,38.5L27.0,39.4L27.8,40.2L28.8,41.3L30.3,41.9L31.8,41.8L33.2,41.2L34.3,40.2L34.9,38.7L34.8,37.2L34.2,35.8L34.1,35.2L34.0,34.6L33.9,34.1L33.9,33.6L33.9,33.2L33.9,32.8L34.0,32.3L34.0,31.9L34.1,31.5L34.2,31.1L34.3,30.6L34.4,30.2L34.5,29.7L34.7,29.2L34.9,28.7L35.1,28.1L35.4,27.6L35.6,27.0L35.9,26.5L36.2,25.9L36.5,25.3L36.9,24.7L37.3,24.1L37.7,23.5L38.1,22.9L38.5,22.3L39.0,21.7L39.4,21.1L39.9,20.5L40.4,20.0L40.8,19.5L41.3,19.0L41.8,18.5L42.3,18.1L42.7,17.7L43.2,17.3L43.7,16.9L44.2,16.6L44.6,16.2L45.1,15.9L45.6,15.7L46.0,15.4L46.5,15.2L46.9,15.0L47.3,14.9L47.8,14.7L48.3,14.5L48.8,14.4L49.3,14.3L49.8,14.1L50.3,14.0L50.9,13.9L51.4,13.9L52.0,13.8L52.6,13.7L53.2,13.7L53.8,13.7L54.4,13.6L55.0,13.6L55.6,13.6L56.3,13.7L56.9,13.7L57.5,13.8L58.2,13.8L58.8,13.9L59.4,14.0L60.1,14.1L60.8,14.2L61.4,14.3L62.1,14.5L62.8,14.6L63.6,14.8L64.3,14.9L65.0,15.0L65.8,15.2L66.6,15.3L67.3,15.5L68.1,15.6L69.0,15.8L69.8,15.9L70.7,16.0L71.5,16.1L72.4,16.2L73.3,16.2L74.2,16.3L75.1,16.3L76.0,16.3L76.9,16.3L77.8,16.2L78.8,16.2L79.7,16.1L80.5,15.9L81.4,15.8L82.3,15.6L83.2,15.5L84.1,15.2L85.0,15.0L85.8,14.8L86.7,14.5L87.5,14.2L88.4,13.8L89.2,13.5L90.0,13.1L90.8,12.7L91.6,12.3L92.4,11.9L93.1,11.4L93.9,10.9L94.6,10.4L95.3,9.9L96.0,9.4L96.7,8.8L97.3,8.2L98.0,7.6L98.6,7.0L99.2,6.3L99.7,5.7L100.3,5.0L100.8,4.3L101.2,3.9L101.5,3.3L101.5,2.8L101.3,2.2L100.9,1.8L100.3,1.5L99.8,1.5Z"/></g><g transform="matrix(0.1081,0,0,0.1124,705.09,128.77)"><path d="M3.1,56.8L4.3,55.5L5.4,54.1L6.4,52.7L7.4,51.2L8.4,49.8L9.4,48.5L10.5,47.2L11.6,46.0L12.7,44.9L13.8,43.9L15.0,43.1L16.3,42.4L17.6,41.9L19.0,41.6L20.4,41.5L21.8,41.7L23.2,42.1L24.2,42.7L24.9,43.4L25.1,44.0L24.6,44.4L23.9,44.5L23.4,44.5L23.1,44.9L23.0,45.4L22.8,46.1L22.6,46.8L22.4,47.4L22.2,48.0L22.0,48.7L21.6,49.4L21.2,50.2L20.7,51.1L20.0,52.1L19.3,53.2L18.4,54.4L17.4,55.6L16.3,56.9L15.2,58.3L13.9,59.7L12.6,61.2L11.3,62.7L10.0,64.3L8.7,66.1L7.4,67.9L6.2,69.9L5.1,72.0L4.1,74.3L3.3,76.7L2.7,79.3L2.4,81.9L2.4,84.7L2.6,87.5L3.3,90.4L4.3,93.3L5.8,96.2L8.0,98.9L10.7,101.1L13.6,102.5L16.5,103.2L19.2,103.5L21.8,103.5L24.4,103.1L26.8,102.5L29.0,101.7L31.1,100.7L33.1,99.5L34.9,98.2L36.5,96.8L38.1,95.2L39.5,93.5L40.7,91.8L41.9,90.0L42.9,88.2L43.7,86.3L44.4,84.3L44.9,82.4L45.3,80.5L45.5,78.6L45.4,77.3L44.9,76.0L43.9,75.0L42.6,74.5L41.3,74.6L40.0,75.1L39.0,76.1L38.5,77.4L38.0,78.7L37.5,80.1L36.8,81.5L36.2,82.9L35.4,84.3L34.6,85.6L33.7,86.9L32.8,88.2L31.7,89.3L30.7,90.3L29.5,91.2L28.4,91.9L27.2,92.4L26.0,92.8L24.7,92.9L23.5,92.9L22.3,92.6L21.2,92.2L20.3,91.6L19.8,90.9L19.8,90.3L20.2,90.0L20.7,89.8L21.1,89.3L21.5,88.6L22.0,87.7L22.5,86.8L23.0,85.8L23.5,84.9L24.0,84.1L24.5,83.2L25.0,82.4L25.6,81.4L26.3,80.4L27.0,79.3L27.9,78.2L28.8,76.9L29.8,75.7L30.9,74.4L32.1,73.0L33.3,71.6L34.6,70.0L36.0,68.4L37.3,66.7L38.7,64.8L40.0,62.8L41.2,60.6L42.3,58.3L43.3,55.7L43.9,53.0L44.3,50.0L44.4,47.0L44.0,44.0L43.3,40.9L42.1,37.9L40.3,34.9L37.8,32.1L34.5,29.9L31.0,28.7L27.8,28.4L24.8,28.7L22.1,29.4L19.6,30.3L17.3,31.4L15.2,32.6L13.4,33.9L11.6,35.2L10.0,36.6L8.5,38.0L7.1,39.5L5.8,41.0L4.6,42.5L3.5,44.0L2.4,45.6L1.4,47.1L0.4,48.7L-0.5,50.2L-1.4,51.7L-2.1,53.2L-2.6,54.3L-2.6,55.6L-2.2,56.7L-1.3,57.6L-0.2,58.1L1.1,58.1L2.2,57.7Z"/><circle cx="33" cy="8" r="10.4"/></g><text transform="matrix(0.1773,0,0,0.1638,705.28,157.66)" font-family="Liberation Serif, serif" font-style="italic" font-size="100" stroke="#000" stroke-width="3.2" stroke-linejoin="round">g</text><text transform="matrix(0.2069,0,0,0.2830,722.43,151.49)" font-family="Liberation Serif, serif" font-size="100" stroke="#000" stroke-width="3.5" stroke-linejoin="round">(</text><g transform="matrix(0.1247,0,0,0.1166,731.91,139.40)"><path d="M8.3,37.7L8.8,36.2L9.4,34.7L10.0,33.1L10.6,31.6L11.3,30.0L12.1,28.5L13.0,27.0L13.9,25.5L14.9,24.0L15.9,22.6L17.0,21.2L18.1,19.8L19.3,18.6L20.5,17.4L21.7,16.3L23.0,15.3L24.4,14.4L25.7,13.6L27.1,12.9L28.4,12.3L29.8,11.8L31.2,11.5L32.6,11.3L34.0,11.2L35.3,11.3L36.7,11.4L38.0,11.7L39.3,12.1L40.5,12.6L41.6,13.2L42.6,13.8L43.4,14.5L44.1,15.3L44.6,16.0L45.0,16.8L45.4,17.6L45.8,18.6L46.1,19.6L46.4,20.7L46.7,21.9L46.9,23.1L47.1,24.4L47.2,25.7L47.3,27.0L47.4,28.3L47.4,29.6L47.4,31.0L47.3,32.3L47.2,33.7L47.1,35.2L46.9,36.7L46.7,38.2L46.5,39.8L46.3,41.4L46.0,43.0L45.6,44.7L45.3,46.4L44.9,48.2L44.5,50.0L44.1,51.8L43.8,53.7L43.4,55.6L43.0,57.6L42.7,59.6L42.4,61.6L42.2,63.7L42.0,65.9L42.0,68.1L42.0,70.4L42.1,72.7L42.3,75.1L42.7,77.4L43.2,79.9L43.8,82.3L44.6,84.8L45.7,87.3L46.9,89.8L48.5,92.3L50.3,94.6L52.5,96.7L54.9,98.6L57.5,100.1L60.1,101.2L62.7,101.9L65.2,102.5L67.8,102.8L70.3,102.9L72.7,102.8L75.1,102.6L77.4,102.2L79.7,101.8L81.9,101.2L83.9,100.5L86.0,99.8L87.9,99.0L89.8,98.1L91.7,97.1L93.4,96.1L95.2,95.1L96.8,94.0L98.5,92.8L100.1,91.7L101.6,90.5L103.2,89.2L104.7,87.9L106.1,86.6L107.5,85.3L108.9,84.0L110.3,82.6L111.6,81.2L112.9,79.8L114.2,78.4L115.5,76.9L116.7,75.5L118.0,74.0L119.1,72.6L120.3,71.1L121.5,69.7L122.6,68.2L123.3,67.0L123.4,65.7L123.0,64.4L122.2,63.4L121.0,62.7L119.7,62.6L118.4,63.0L117.4,63.8L116.2,65.1L114.9,66.5L113.7,67.8L112.4,69.1L111.2,70.4L109.9,71.6L108.6,72.9L107.2,74.1L105.9,75.3L104.6,76.5L103.2,77.6L101.8,78.8L100.4,79.8L99.0,80.9L97.6,81.9L96.1,82.8L94.7,83.7L93.2,84.6L91.7,85.4L90.2,86.2L88.6,86.9L87.1,87.6L85.6,88.1L84.0,88.6L82.5,89.0L80.9,89.3L79.4,89.5L77.9,89.6L76.4,89.6L74.9,89.4L73.4,89.1L72.0,88.7L70.7,88.2L69.4,87.6L68.4,86.9L67.6,86.2L67.0,85.5L66.6,84.8L66.5,84.1L66.4,83.5L66.3,82.7L66.3,81.8L66.2,80.7L66.2,79.5L66.3,78.2L66.3,76.9L66.4,75.4L66.5,74.0L66.6,72.5L66.8,71.1L67.0,69.6L67.2,68.1L67.4,66.6L67.6,65.1L67.9,63.5L68.1,61.9L68.4,60.3L68.8,58.6L69.1,56.9L69.4,55.1L69.8,53.3L70.2,51.4L70.5,49.5L70.9,47.5L71.2,45.5L71.5,43.4L71.8,41.3L72.0,39.2L72.2,37.0L72.2,34.7L72.2,32.4L72.1,30.1L71.9,27.7L71.5,25.3L71.0,22.9L70.4,20.5L69.6,18.0L68.6,15.6L67.5,13.3L66.2,11.0L64.7,8.7L63.0,6.6L61.1,4.5L59.0,2.7L56.7,1.0L54.2,-0.4L51.6,-1.6L49.0,-2.4L46.4,-3.0L43.8,-3.3L41.3,-3.5L38.7,-3.4L36.3,-3.1L33.8,-2.7L31.4,-2.1L29.2,-1.4L27.0,-0.5L24.9,0.6L22.9,1.7L21.1,3.0L19.3,4.3L17.6,5.8L16.0,7.3L14.5,8.9L13.1,10.5L11.7,12.2L10.5,14.0L9.3,15.7L8.2,17.6L7.2,19.4L6.2,21.3L5.4,23.2L4.6,25.1L3.9,27.0L3.3,28.9L2.7,30.8L2.3,32.6L1.9,34.5L1.7,36.3L1.6,37.7L2.2,38.9L3.1,39.8L4.3,40.3L5.7,40.4L6.9,39.8L7.8,38.9Z"/><path d="M67.0,26.3L67.2,24.9L67.5,23.6L67.9,22.2L68.4,20.9L69.0,19.7L69.6,18.4L70.4,17.2L71.2,16.1L72.1,15.0L73.0,14.0L74.1,13.0L75.1,12.1L76.3,11.3L77.4,10.6L78.6,9.9L79.9,9.3L81.2,8.8L82.5,8.4L83.8,8.1L85.2,7.9L86.5,7.8L87.9,7.7L89.2,7.8L90.6,8.0L91.8,8.3L93.0,8.7L94.2,9.2L95.3,9.8L96.4,10.5L97.4,11.3L98.4,12.2L99.2,13.1L100.0,14.2L100.6,15.2L101.1,16.3L101.5,17.5L101.8,18.6L102.0,19.8L102.0,20.9L102.8,23.1L104.4,24.9L106.5,25.9L108.9,26.0L111.1,25.2L112.9,23.6L113.9,21.5L114.0,19.1L113.4,16.9L112.6,14.9L111.6,12.9L110.5,11.1L109.3,9.4L108.0,7.7L106.5,6.2L105.0,4.9L103.3,3.6L101.6,2.5L99.8,1.5L97.9,0.6L96.0,-0.1L94.0,-0.6L92.0,-0.9L90.0,-1.1L88.0,-1.2L86.0,-1.1L84.0,-0.9L82.0,-0.5L80.1,-0.0L78.2,0.6L76.4,1.3L74.6,2.2L72.9,3.2L71.3,4.2L69.8,5.4L68.3,6.7L66.9,8.1L65.6,9.5L64.4,11.0L63.3,12.6L62.3,14.3L61.4,16.1L60.7,17.9L60.0,19.8L59.5,21.7L59.2,23.7L59.0,25.7L59.2,27.2L59.9,28.6L61.2,29.6L62.7,30.0L64.2,29.8L65.6,29.1L66.6,27.8Z"/><path d="M48.3,84.4L47.8,85.3L47.2,86.2L46.5,87.1L45.8,88.0L45.0,88.8L44.1,89.6L43.2,90.3L42.3,91.0L41.3,91.7L40.2,92.2L39.2,92.7L38.1,93.2L37.0,93.5L35.9,93.8L34.8,94.0L33.7,94.1L32.7,94.1L31.6,94.1L30.6,93.9L29.5,93.7L28.4,93.4L27.4,93.0L26.3,92.5L25.1,92.0L24.0,91.4L22.9,90.7L21.8,90.1L20.8,89.3L19.9,88.6L19.1,87.8L18.4,87.1L17.9,86.3L17.5,85.6L17.3,84.9L17.2,84.3L17.2,83.6L17.3,83.0L17.5,82.3L17.9,81.5L18.0,79.1L17.2,76.9L15.7,75.1L13.5,74.1L11.1,74.0L8.9,74.8L7.1,76.3L6.1,78.5L5.9,80.9L5.9,83.2L6.3,85.4L7.0,87.4L7.8,89.3L8.8,91.0L10.0,92.5L11.3,93.8L12.6,95.0L14.0,96.1L15.4,97.1L16.9,98.0L18.3,98.8L19.7,99.6L21.2,100.3L22.7,100.9L24.3,101.5L25.9,102.0L27.5,102.4L29.2,102.7L30.9,102.8L32.7,102.9L34.4,102.8L36.1,102.6L37.8,102.3L39.5,101.8L41.1,101.3L42.7,100.6L44.2,99.8L45.7,99.0L47.1,98.0L48.5,97.0L49.8,95.9L51.0,94.7L52.1,93.4L53.2,92.1L54.1,90.7L55.0,89.2L55.7,87.6L56.0,86.1L55.8,84.6L54.9,83.2L53.6,82.3L52.1,82.0L50.6,82.2L49.2,83.1Z"/><circle cx="108" cy="26" r="14.0"/><circle cx="15.5" cy="79" r="14.0"/></g><text transform="matrix(0.2085,0,0,0.2830,750.79,151.49)" font-family="Liberation Serif, serif" font-size="100" stroke="#000" stroke-width="3.5" stroke-linejoin="round">)</text>
<g transform="matrix(0.2243,0,0,0.2062,437.10,483.55)"><path d="M8.4,37.7L8.9,36.2L9.4,34.7L10.0,33.2L10.7,31.6L11.4,30.1L12.2,28.5L13.1,27.0L14.0,25.5L15.0,24.1L16.0,22.6L17.1,21.2L18.2,19.9L19.4,18.7L20.6,17.5L21.8,16.4L23.1,15.4L24.4,14.5L25.8,13.7L27.1,13.0L28.5,12.4L29.9,12.0L31.3,11.7L32.6,11.5L34.0,11.4L35.3,11.4L36.7,11.6L38.0,11.9L39.3,12.3L40.5,12.8L41.6,13.4L42.5,14.0L43.3,14.7L44.0,15.5L44.4,16.2L44.8,16.9L45.2,17.8L45.5,18.7L45.9,19.7L46.2,20.8L46.4,22.0L46.6,23.2L46.8,24.5L46.9,25.7L47.0,27.0L47.1,28.3L47.1,29.6L47.1,31.0L47.0,32.3L46.9,33.7L46.8,35.2L46.6,36.6L46.4,38.2L46.2,39.7L45.9,41.3L45.6,43.0L45.3,44.6L45.0,46.4L44.6,48.1L44.2,49.9L43.8,51.7L43.4,53.6L43.1,55.5L42.7,57.5L42.4,59.5L42.1,61.6L41.9,63.7L41.7,65.9L41.7,68.1L41.7,70.4L41.8,72.7L42.0,75.1L42.4,77.5L42.9,79.9L43.5,82.4L44.4,84.9L45.4,87.4L46.7,89.9L48.3,92.4L50.1,94.7L52.3,96.9L54.7,98.8L57.3,100.3L60.0,101.4L62.6,102.1L65.2,102.6L67.7,102.9L70.3,103.0L72.7,103.0L75.1,102.7L77.5,102.4L79.7,101.9L81.9,101.4L84.0,100.7L86.0,99.9L88.0,99.1L89.9,98.2L91.7,97.2L93.5,96.2L95.2,95.2L96.9,94.1L98.5,92.9L100.1,91.8L101.7,90.5L103.2,89.3L104.7,88.0L106.2,86.7L107.6,85.4L109.0,84.0L110.4,82.7L111.7,81.3L113.0,79.9L114.3,78.4L115.6,77.0L116.8,75.5L118.0,74.1L119.2,72.6L120.4,71.2L121.5,69.7L122.7,68.3L123.3,67.1L123.5,65.7L123.1,64.4L122.3,63.3L121.1,62.7L119.7,62.5L118.4,62.9L117.3,63.7L116.1,65.1L114.9,66.4L113.6,67.7L112.4,69.0L111.1,70.3L109.8,71.6L108.5,72.8L107.2,74.0L105.8,75.2L104.5,76.4L103.1,77.6L101.8,78.7L100.4,79.7L98.9,80.8L97.5,81.8L96.1,82.7L94.6,83.7L93.1,84.5L91.6,85.3L90.1,86.1L88.6,86.8L87.0,87.4L85.5,88.0L84.0,88.5L82.4,88.9L80.9,89.2L79.4,89.4L77.9,89.4L76.4,89.4L74.9,89.3L73.4,89.0L72.0,88.6L70.7,88.1L69.5,87.4L68.5,86.8L67.7,86.0L67.1,85.3L66.8,84.6L66.7,84.0L66.6,83.3L66.6,82.6L66.5,81.7L66.5,80.6L66.5,79.5L66.5,78.2L66.6,76.8L66.7,75.4L66.8,74.0L66.9,72.5L67.1,71.1L67.3,69.6L67.5,68.2L67.7,66.7L67.9,65.1L68.2,63.6L68.4,62.0L68.7,60.3L69.1,58.6L69.4,56.9L69.7,55.1L70.1,53.3L70.5,51.4L70.8,49.5L71.2,47.6L71.5,45.5L71.8,43.5L72.1,41.4L72.3,39.2L72.5,37.0L72.5,34.7L72.5,32.4L72.4,30.1L72.2,27.7L71.8,25.3L71.3,22.8L70.7,20.4L69.9,18.0L68.9,15.5L67.8,13.2L66.4,10.8L64.9,8.6L63.2,6.4L61.3,4.4L59.2,2.5L56.9,0.8L54.3,-0.6L51.7,-1.8L49.1,-2.6L46.5,-3.2L43.9,-3.5L41.3,-3.7L38.8,-3.6L36.2,-3.3L33.8,-2.9L31.4,-2.3L29.1,-1.5L26.9,-0.6L24.8,0.4L22.9,1.6L21.0,2.9L19.2,4.2L17.5,5.7L15.9,7.2L14.4,8.8L13.0,10.4L11.6,12.1L10.4,13.9L9.2,15.7L8.1,17.5L7.1,19.4L6.1,21.2L5.3,23.1L4.5,25.0L3.8,26.9L3.2,28.8L2.6,30.7L2.2,32.6L1.8,34.5L1.6,36.3L1.6,37.7L2.1,38.9L3.1,39.9L4.3,40.4L5.7,40.4L6.9,39.9L7.9,38.9Z"/><path d="M67.1,26.3L67.3,25.0L67.6,23.6L68.0,22.3L68.5,21.0L69.1,19.7L69.7,18.5L70.5,17.3L71.3,16.2L72.2,15.1L73.1,14.1L74.1,13.1L75.2,12.2L76.3,11.4L77.5,10.7L78.7,10.0L79.9,9.4L81.2,8.9L82.5,8.5L83.9,8.2L85.2,8.0L86.6,7.9L87.9,7.9L89.2,7.9L90.5,8.1L91.8,8.4L93.0,8.8L94.2,9.3L95.3,9.9L96.4,10.6L97.4,11.4L98.3,12.3L99.1,13.2L99.9,14.2L100.5,15.3L101.0,16.4L101.4,17.5L101.7,18.7L101.8,19.8L101.8,20.9L102.6,23.2L104.3,25.0L106.5,26.1L108.9,26.2L111.2,25.4L113.0,23.7L114.1,21.5L114.2,19.1L113.5,16.9L112.7,14.8L111.7,12.9L110.6,11.0L109.4,9.3L108.1,7.7L106.6,6.2L105.0,4.8L103.4,3.5L101.7,2.4L99.8,1.4L98.0,0.5L96.0,-0.2L94.0,-0.7L92.0,-1.1L90.0,-1.3L88.0,-1.3L85.9,-1.2L84.0,-1.0L82.0,-0.6L80.1,-0.1L78.2,0.5L76.4,1.2L74.6,2.1L72.9,3.1L71.3,4.2L69.7,5.3L68.2,6.6L66.8,8.0L65.5,9.4L64.3,11.0L63.2,12.6L62.2,14.3L61.3,16.0L60.6,17.9L59.9,19.7L59.5,21.7L59.1,23.6L58.9,25.7L59.1,27.3L59.8,28.7L61.1,29.7L62.7,30.1L64.3,29.9L65.7,29.2L66.7,27.9Z"/><path d="M48.2,84.3L47.7,85.3L47.1,86.2L46.5,87.1L45.7,87.9L44.9,88.7L44.1,89.5L43.2,90.3L42.2,90.9L41.2,91.6L40.2,92.1L39.1,92.6L38.0,93.1L36.9,93.4L35.9,93.7L34.8,93.9L33.7,94.0L32.7,94.0L31.6,94.0L30.6,93.8L29.5,93.6L28.5,93.3L27.4,92.9L26.3,92.4L25.2,91.9L24.1,91.3L23.0,90.6L21.9,90.0L20.9,89.2L20.0,88.5L19.2,87.8L18.5,87.0L18.0,86.3L17.6,85.6L17.4,84.9L17.3,84.2L17.3,83.6L17.4,83.0L17.7,82.3L18.1,81.6L18.2,79.1L17.4,76.8L15.7,75.0L13.6,73.9L11.1,73.8L8.8,74.6L7.0,76.3L5.9,78.4L5.7,80.9L5.8,83.2L6.2,85.4L6.8,87.5L7.7,89.4L8.7,91.1L9.9,92.6L11.2,93.9L12.5,95.1L13.9,96.2L15.4,97.2L16.8,98.1L18.2,98.9L19.7,99.7L21.2,100.4L22.7,101.0L24.3,101.6L25.9,102.1L27.5,102.5L29.2,102.8L30.9,103.0L32.7,103.0L34.4,102.9L36.1,102.7L37.8,102.4L39.5,101.9L41.1,101.4L42.7,100.7L44.2,99.9L45.7,99.1L47.2,98.1L48.5,97.1L49.8,96.0L51.1,94.8L52.2,93.5L53.3,92.2L54.2,90.7L55.0,89.2L55.8,87.7L56.1,86.1L55.9,84.5L55.0,83.2L53.7,82.2L52.1,81.9L50.5,82.1L49.2,83.0Z"/><circle cx="108" cy="26" r="14.2"/><circle cx="15.5" cy="79" r="14.2"/></g>
<g transform="translate(0,283) rotate(-90)"><text transform="matrix(0.4423,0,0,0.4150,-0.77,39.87)" font-family="Liberation Serif, serif" font-style="italic" font-size="100" stroke="#000" stroke-width="2.5" stroke-linejoin="round">δ</text><g transform="matrix(0.2036,0,0,0.1869,22.20,3.99)"><path d="M2.6,56.4L3.7,55.1L4.7,53.6L5.7,52.2L6.8,50.8L7.8,49.4L8.8,48.0L9.8,46.7L10.9,45.4L12.1,44.3L13.3,43.3L14.5,42.3L15.8,41.6L17.2,41.0L18.6,40.6L20.1,40.4L21.6,40.5L23.0,40.7L24.3,41.1L25.2,41.7L25.7,42.4L25.7,42.8L25.4,43.1L25.2,43.5L25.2,44.1L25.2,44.9L25.1,45.8L25.0,46.8L24.8,47.7L24.6,48.6L24.3,49.4L23.9,50.3L23.4,51.3L22.8,52.4L22.1,53.5L21.3,54.7L20.3,55.9L19.3,57.2L18.2,58.5L17.0,59.9L15.8,61.3L14.5,62.8L13.2,64.3L11.9,65.9L10.7,67.5L9.5,69.3L8.3,71.1L7.3,73.1L6.3,75.3L5.6,77.5L5.0,79.9L4.7,82.3L4.6,84.9L4.8,87.5L5.3,90.2L6.1,92.9L7.4,95.5L9.3,98.0L11.7,100.0L14.3,101.2L16.9,102.0L19.4,102.3L21.9,102.3L24.3,102.0L26.6,101.5L28.7,100.7L30.7,99.8L32.6,98.7L34.3,97.4L35.9,96.0L37.4,94.5L38.7,93.0L40.0,91.3L41.1,89.5L42.0,87.7L42.9,85.9L43.6,84.0L44.1,82.2L44.5,80.3L44.7,78.5L44.7,77.4L44.3,76.4L43.5,75.7L42.5,75.3L41.4,75.3L40.4,75.7L39.7,76.5L39.3,77.5L38.8,78.9L38.3,80.3L37.7,81.8L37.0,83.2L36.2,84.7L35.4,86.1L34.5,87.5L33.5,88.7L32.4,89.9L31.3,91.0L30.1,91.9L28.9,92.7L27.6,93.3L26.3,93.8L25.0,94.0L23.6,94.0L22.2,93.8L21.0,93.4L19.9,92.8L19.1,92.2L18.8,91.5L18.9,91.0L19.0,90.5L19.2,89.7L19.5,88.8L19.8,87.7L20.3,86.5L20.7,85.4L21.2,84.3L21.7,83.3L22.2,82.3L22.8,81.2L23.5,80.1L24.2,79.0L25.0,77.9L25.9,76.6L26.9,75.4L27.9,74.1L29.0,72.8L30.2,71.4L31.5,70.0L32.7,68.5L34.0,66.9L35.4,65.2L36.6,63.4L37.9,61.5L39.0,59.5L40.1,57.3L40.9,54.9L41.6,52.4L41.9,49.8L42.0,47.0L41.7,44.2L41.1,41.4L40.0,38.6L38.4,35.9L36.3,33.5L33.4,31.5L30.4,30.4L27.5,30.1L24.7,30.3L22.2,30.8L19.8,31.6L17.7,32.5L15.7,33.6L13.8,34.7L12.1,36.0L10.6,37.3L9.1,38.6L7.7,40.1L6.5,41.5L5.3,43.0L4.1,44.5L3.0,46.0L2.0,47.6L1.0,49.1L0.1,50.6L-0.7,52.1L-1.6,53.6L-1.9,54.5L-2.0,55.4L-1.6,56.4L-0.9,57.1L-0.0,57.4L0.9,57.5L1.9,57.1Z"/><circle cx="33" cy="8" r="9.0"/></g><g transform="matrix(0.3875,0,0,0.3337,37.58,11.81)"><path d="M73.7,6.5L73.3,7.6L72.8,8.8L72.4,9.9L72.0,11.1L71.6,12.2L71.2,13.4L70.8,14.5L70.4,15.7L70.0,16.8L69.6,18.0L69.2,19.1L68.8,20.3L68.4,21.4L68.1,22.6L67.7,23.7L67.3,24.8L66.9,26.0L66.6,27.1L66.2,28.3L65.8,29.4L65.5,30.6L65.1,31.7L64.7,32.8L64.4,33.9L64.0,35.1L63.6,36.2L63.3,37.3L62.9,38.4L62.5,39.6L62.1,40.7L61.8,41.8L61.4,42.9L61.0,44.0L60.6,45.1L60.2,46.2L59.8,47.3L59.4,48.3L59.0,49.4L58.5,50.5L58.1,51.6L57.7,52.6L57.2,53.7L56.8,54.8L56.3,55.8L55.9,56.9L55.4,57.9L55.0,59.0L54.5,60.0L54.0,61.1L53.5,62.1L53.0,63.2L52.5,64.2L52.0,65.2L51.5,66.3L51.0,67.3L50.4,68.3L49.9,69.3L49.4,70.3L48.8,71.3L48.3,72.3L47.7,73.2L47.2,74.2L46.6,75.1L46.0,76.0L45.4,76.9L44.8,77.7L44.2,78.5L43.5,79.3L42.9,80.1L42.2,80.8L41.5,81.6L40.8,82.2L40.1,82.9L39.4,83.6L38.6,84.2L37.8,84.8L37.0,85.3L36.2,85.9L35.3,86.4L34.5,86.9L33.6,87.3L32.7,87.7L31.8,88.1L30.9,88.5L30.0,88.8L29.0,89.1L28.0,89.3L27.1,89.6L26.1,89.7L25.1,89.9L24.1,90.0L23.2,90.0L22.2,90.0L21.3,90.0L20.4,89.9L19.6,89.7L18.8,89.5L18.0,89.2L17.4,88.9L16.8,88.5L16.2,88.1L15.7,87.6L15.3,87.1L14.9,86.5L14.5,85.8L14.2,85.2L14.0,84.5L13.8,83.8L13.7,83.2L13.6,82.6L13.5,82.1L13.5,81.6L13.5,81.2L13.4,80.8L13.4,80.4L13.3,80.0L13.2,79.5L13.2,78.9L13.3,78.2L14.6,76.3L15.0,74.0L14.5,71.7L13.2,69.7L11.3,68.4L9.0,68.0L6.7,68.5L4.7,69.8L3.0,71.1L1.6,72.6L0.4,74.4L-0.5,76.3L-1.1,78.3L-1.4,80.3L-1.5,82.3L-1.3,84.2L-0.9,86.1L-0.3,87.9L0.4,89.6L1.3,91.2L2.3,92.7L3.5,94.1L4.7,95.4L6.0,96.6L7.4,97.7L8.9,98.7L10.4,99.6L12.0,100.3L13.5,101.0L15.1,101.5L16.7,101.9L18.3,102.2L19.9,102.5L21.5,102.6L23.0,102.7L24.6,102.7L26.1,102.7L27.7,102.6L29.2,102.4L30.7,102.2L32.2,101.9L33.6,101.5L35.0,101.1L36.4,100.6L37.8,100.1L39.2,99.6L40.5,99.0L41.8,98.3L43.1,97.6L44.4,96.9L45.6,96.1L46.8,95.3L48.0,94.4L49.1,93.6L50.2,92.6L51.3,91.7L52.3,90.7L53.3,89.7L54.3,88.7L55.2,87.6L56.1,86.6L56.9,85.5L57.8,84.4L58.6,83.3L59.4,82.2L60.1,81.1L60.9,80.0L61.6,78.8L62.3,77.7L62.9,76.6L63.6,75.4L64.2,74.3L64.8,73.2L65.4,72.1L66.0,70.9L66.6,69.8L67.1,68.6L67.7,67.5L68.2,66.4L68.7,65.2L69.2,64.0L69.8,62.9L70.2,61.7L70.7,60.6L71.2,59.4L71.7,58.2L72.1,57.0L72.6,55.9L73.0,54.7L73.4,53.5L73.8,52.3L74.3,51.1L74.7,49.9L75.0,48.8L75.4,47.6L75.8,46.4L76.2,45.2L76.5,44.0L76.9,42.8L77.2,41.6L77.5,40.4L77.9,39.2L78.2,38.0L78.5,36.8L78.8,35.6L79.1,34.4L79.4,33.2L79.7,32.0L80.0,30.9L80.3,29.7L80.5,28.5L80.8,27.3L81.1,26.1L81.3,24.9L81.6,23.7L81.8,22.5L82.1,21.3L82.3,20.1L82.5,18.9L82.8,17.8L83.0,16.6L83.2,15.4L83.4,14.2L83.7,13.0L83.9,11.8L84.1,10.7L84.3,9.5L84.5,7.4L83.8,5.3L82.4,3.7L80.5,2.7L78.4,2.5L76.3,3.2L74.7,4.6Z"/><path d="M99.2,1.7L98.4,1.9L97.7,2.0L96.9,2.1L96.1,2.3L95.4,2.4L94.6,2.5L93.9,2.6L93.2,2.7L92.4,2.7L91.7,2.8L91.0,2.9L90.3,2.9L89.5,3.0L88.8,3.0L88.1,3.1L87.4,3.1L86.7,3.1L86.0,3.2L85.3,3.2L84.6,3.2L83.9,3.2L83.3,3.2L82.6,3.2L81.9,3.2L81.2,3.1L80.5,3.1L79.9,3.1L79.2,3.0L78.5,3.0L77.9,2.9L77.2,2.9L76.6,2.8L75.9,2.7L75.3,2.6L74.7,2.5L74.0,2.4L73.4,2.3L72.7,2.2L72.0,2.1L71.3,2.0L70.6,1.8L69.9,1.7L69.2,1.5L68.5,1.4L67.7,1.3L66.9,1.1L66.2,1.0L65.4,0.8L64.6,0.7L63.7,0.6L62.9,0.4L62.0,0.3L61.2,0.2L60.3,0.1L59.4,0.1L58.4,0.0L57.5,-0.0L56.6,-0.0L55.6,-0.0L54.7,0.0L53.7,0.1L52.8,0.1L51.8,0.2L50.9,0.4L49.9,0.5L49.0,0.7L48.0,0.9L47.1,1.2L46.1,1.5L45.2,1.8L44.3,2.2L43.4,2.6L42.5,3.0L41.6,3.5L40.7,4.0L39.9,4.6L39.1,5.1L38.3,5.7L37.6,6.4L36.9,7.0L36.2,7.7L35.5,8.4L34.9,9.1L34.3,9.8L33.8,10.5L33.2,11.2L32.7,11.9L32.2,12.7L31.7,13.4L31.2,14.2L30.7,14.9L30.2,15.6L29.7,16.4L29.3,17.1L28.8,17.9L28.4,18.7L27.9,19.5L27.5,20.3L27.0,21.1L26.6,21.9L26.2,22.8L25.9,23.7L25.5,24.6L25.2,25.5L25.0,26.4L24.8,27.4L24.6,28.3L24.5,29.3L24.4,30.3L24.4,31.3L24.5,32.4L24.7,33.4L24.9,34.4L25.2,35.4L25.7,36.4L26.1,37.3L26.7,38.3L27.4,39.1L28.1,40.0L29.1,40.9L30.3,41.4L31.7,41.4L33.0,40.9L33.9,39.9L34.4,38.7L34.4,37.3L33.9,36.0L33.7,35.4L33.6,34.8L33.5,34.3L33.4,33.8L33.4,33.3L33.4,32.8L33.4,32.4L33.5,31.9L33.5,31.5L33.6,31.0L33.7,30.5L33.9,30.0L34.0,29.5L34.2,29.0L34.4,28.5L34.6,27.9L34.8,27.4L35.1,26.8L35.4,26.2L35.7,25.6L36.0,25.0L36.4,24.4L36.8,23.8L37.2,23.2L37.6,22.6L38.0,21.9L38.5,21.3L38.9,20.7L39.4,20.2L39.9,19.6L40.3,19.1L40.8,18.6L41.3,18.1L41.8,17.6L42.3,17.2L42.7,16.8L43.2,16.4L43.7,16.1L44.2,15.7L44.7,15.4L45.1,15.1L45.6,14.9L46.1,14.6L46.6,14.4L47.0,14.2L47.5,14.0L48.0,13.9L48.5,13.7L49.0,13.6L49.6,13.4L50.1,13.3L50.7,13.2L51.3,13.1L51.9,13.0L52.5,13.0L53.1,12.9L53.7,12.9L54.4,12.9L55.0,12.9L55.6,12.9L56.3,12.9L56.9,12.9L57.6,13.0L58.2,13.1L58.9,13.1L59.5,13.2L60.2,13.3L60.9,13.4L61.6,13.6L62.3,13.7L63.0,13.8L63.7,14.0L64.4,14.1L65.2,14.3L65.9,14.4L66.7,14.6L67.5,14.7L68.3,14.9L69.1,15.0L69.9,15.1L70.8,15.2L71.6,15.3L72.5,15.4L73.4,15.5L74.3,15.5L75.2,15.5L76.1,15.5L77.0,15.5L77.9,15.5L78.7,15.4L79.6,15.3L80.5,15.2L81.4,15.1L82.3,14.9L83.1,14.7L84.0,14.6L84.9,14.3L85.7,14.1L86.6,13.8L87.4,13.5L88.2,13.2L89.0,12.9L89.9,12.6L90.7,12.2L91.4,11.8L92.2,11.4L93.0,11.0L93.7,10.5L94.5,10.0L95.2,9.5L95.9,9.0L96.6,8.5L97.2,8.0L97.9,7.4L98.5,6.8L99.1,6.2L99.7,5.6L100.3,4.9L100.8,4.3L101.2,3.9L101.5,3.3L101.5,2.8L101.3,2.2L100.9,1.8L100.3,1.5L99.8,1.5Z"/></g><g transform="matrix(0.2036,0,0,0.1869,77.30,3.99)"><path d="M2.6,56.4L3.7,55.1L4.7,53.6L5.7,52.2L6.8,50.8L7.8,49.4L8.8,48.0L9.8,46.7L10.9,45.4L12.1,44.3L13.3,43.3L14.5,42.3L15.8,41.6L17.2,41.0L18.6,40.6L20.1,40.4L21.6,40.5L23.0,40.7L24.3,41.1L25.2,41.7L25.7,42.4L25.7,42.8L25.4,43.1L25.2,43.5L25.2,44.1L25.2,44.9L25.1,45.8L25.0,46.8L24.8,47.7L24.6,48.6L24.3,49.4L23.9,50.3L23.4,51.3L22.8,52.4L22.1,53.5L21.3,54.7L20.3,55.9L19.3,57.2L18.2,58.5L17.0,59.9L15.8,61.3L14.5,62.8L13.2,64.3L11.9,65.9L10.7,67.5L9.5,69.3L8.3,71.1L7.3,73.1L6.3,75.3L5.6,77.5L5.0,79.9L4.7,82.3L4.6,84.9L4.8,87.5L5.3,90.2L6.1,92.9L7.4,95.5L9.3,98.0L11.7,100.0L14.3,101.2L16.9,102.0L19.4,102.3L21.9,102.3L24.3,102.0L26.6,101.5L28.7,100.7L30.7,99.8L32.6,98.7L34.3,97.4L35.9,96.0L37.4,94.5L38.7,93.0L40.0,91.3L41.1,89.5L42.0,87.7L42.9,85.9L43.6,84.0L44.1,82.2L44.5,80.3L44.7,78.5L44.7,77.4L44.3,76.4L43.5,75.7L42.5,75.3L41.4,75.3L40.4,75.7L39.7,76.5L39.3,77.5L38.8,78.9L38.3,80.3L37.7,81.8L37.0,83.2L36.2,84.7L35.4,86.1L34.5,87.5L33.5,88.7L32.4,89.9L31.3,91.0L30.1,91.9L28.9,92.7L27.6,93.3L26.3,93.8L25.0,94.0L23.6,94.0L22.2,93.8L21.0,93.4L19.9,92.8L19.1,92.2L18.8,91.5L18.9,91.0L19.0,90.5L19.2,89.7L19.5,88.8L19.8,87.7L20.3,86.5L20.7,85.4L21.2,84.3L21.7,83.3L22.2,82.3L22.8,81.2L23.5,80.1L24.2,79.0L25.0,77.9L25.9,76.6L26.9,75.4L27.9,74.1L29.0,72.8L30.2,71.4L31.5,70.0L32.7,68.5L34.0,66.9L35.4,65.2L36.6,63.4L37.9,61.5L39.0,59.5L40.1,57.3L40.9,54.9L41.6,52.4L41.9,49.8L42.0,47.0L41.7,44.2L41.1,41.4L40.0,38.6L38.4,35.9L36.3,33.5L33.4,31.5L30.4,30.4L27.5,30.1L24.7,30.3L22.2,30.8L19.8,31.6L17.7,32.5L15.7,33.6L13.8,34.7L12.1,36.0L10.6,37.3L9.1,38.6L7.7,40.1L6.5,41.5L5.3,43.0L4.1,44.5L3.0,46.0L2.0,47.6L1.0,49.1L0.1,50.6L-0.7,52.1L-1.6,53.6L-1.9,54.5L-2.0,55.4L-1.6,56.4L-0.9,57.1L-0.0,57.4L0.9,57.5L1.9,57.1Z"/><circle cx="33" cy="8" r="9.0"/></g><text transform="matrix(0.4741,0,0,0.4728,98.92,41.60)" font-family="Liberation Serif, serif" font-size="100" stroke="#000" stroke-width="1.5" stroke-linejoin="round">(</text><g transform="matrix(0.1965,0,0,0.1846,116.14,22.48)"><path d="M8.4,37.7L8.9,36.2L9.4,34.7L10.0,33.2L10.7,31.6L11.4,30.1L12.2,28.5L13.1,27.0L14.0,25.5L15.0,24.1L16.0,22.6L17.1,21.2L18.2,19.9L19.4,18.7L20.6,17.5L21.8,16.4L23.1,15.4L24.4,14.5L25.8,13.7L27.1,13.0L28.5,12.4L29.9,12.0L31.3,11.7L32.6,11.5L34.0,11.4L35.3,11.4L36.7,11.6L38.0,11.9L39.3,12.3L40.5,12.8L41.6,13.4L42.5,14.0L43.3,14.7L44.0,15.5L44.4,16.2L44.8,16.9L45.2,17.8L45.5,18.7L45.9,19.7L46.2,20.8L46.4,22.0L46.6,23.2L46.8,24.5L46.9,25.7L47.0,27.0L47.1,28.3L47.1,29.6L47.1,31.0L47.0,32.3L46.9,33.7L46.8,35.2L46.6,36.6L46.4,38.2L46.2,39.7L45.9,41.3L45.6,43.0L45.3,44.6L45.0,46.4L44.6,48.1L44.2,49.9L43.8,51.7L43.4,53.6L43.1,55.5L42.7,57.5L42.4,59.5L42.1,61.6L41.9,63.7L41.7,65.9L41.7,68.1L41.7,70.4L41.8,72.7L42.0,75.1L42.4,77.5L42.9,79.9L43.5,82.4L44.4,84.9L45.4,87.4L46.7,89.9L48.3,92.4L50.1,94.7L52.3,96.9L54.7,98.8L57.3,100.3L60.0,101.4L62.6,102.1L65.2,102.6L67.7,102.9L70.3,103.0L72.7,103.0L75.1,102.7L77.5,102.4L79.7,101.9L81.9,101.4L84.0,100.7L86.0,99.9L88.0,99.1L89.9,98.2L91.7,97.2L93.5,96.2L95.2,95.2L96.9,94.1L98.5,92.9L100.1,91.8L101.7,90.5L103.2,89.3L104.7,88.0L106.2,86.7L107.6,85.4L109.0,84.0L110.4,82.7L111.7,81.3L113.0,79.9L114.3,78.4L115.6,77.0L116.8,75.5L118.0,74.1L119.2,72.6L120.4,71.2L121.5,69.7L122.7,68.3L123.3,67.1L123.5,65.7L123.1,64.4L122.3,63.3L121.1,62.7L119.7,62.5L118.4,62.9L117.3,63.7L116.1,65.1L114.9,66.4L113.6,67.7L112.4,69.0L111.1,70.3L109.8,71.6L108.5,72.8L107.2,74.0L105.8,75.2L104.5,76.4L103.1,77.6L101.8,78.7L100.4,79.7L98.9,80.8L97.5,81.8L96.1,82.7L94.6,83.7L93.1,84.5L91.6,85.3L90.1,86.1L88.6,86.8L87.0,87.4L85.5,88.0L84.0,88.5L82.4,88.9L80.9,89.2L79.4,89.4L77.9,89.4L76.4,89.4L74.9,89.3L73.4,89.0L72.0,88.6L70.7,88.1L69.5,87.4L68.5,86.8L67.7,86.0L67.1,85.3L66.8,84.6L66.7,84.0L66.6,83.3L66.6,82.6L66.5,81.7L66.5,80.6L66.5,79.5L66.5,78.2L66.6,76.8L66.7,75.4L66.8,74.0L66.9,72.5L67.1,71.1L67.3,69.6L67.5,68.2L67.7,66.7L67.9,65.1L68.2,63.6L68.4,62.0L68.7,60.3L69.1,58.6L69.4,56.9L69.7,55.1L70.1,53.3L70.5,51.4L70.8,49.5L71.2,47.6L71.5,45.5L71.8,43.5L72.1,41.4L72.3,39.2L72.5,37.0L72.5,34.7L72.5,32.4L72.4,30.1L72.2,27.7L71.8,25.3L71.3,22.8L70.7,20.4L69.9,18.0L68.9,15.5L67.8,13.2L66.4,10.8L64.9,8.6L63.2,6.4L61.3,4.4L59.2,2.5L56.9,0.8L54.3,-0.6L51.7,-1.8L49.1,-2.6L46.5,-3.2L43.9,-3.5L41.3,-3.7L38.8,-3.6L36.2,-3.3L33.8,-2.9L31.4,-2.3L29.1,-1.5L26.9,-0.6L24.8,0.4L22.9,1.6L21.0,2.9L19.2,4.2L17.5,5.7L15.9,7.2L14.4,8.8L13.0,10.4L11.6,12.1L10.4,13.9L9.2,15.7L8.1,17.5L7.1,19.4L6.1,21.2L5.3,23.1L4.5,25.0L3.8,26.9L3.2,28.8L2.6,30.7L2.2,32.6L1.8,34.5L1.6,36.3L1.6,37.7L2.1,38.9L3.1,39.9L4.3,40.4L5.7,40.4L6.9,39.9L7.9,38.9Z"/><path d="M67.1,26.3L67.3,25.0L67.6,23.6L68.0,22.3L68.5,21.0L69.1,19.7L69.7,18.5L70.5,17.3L71.3,16.2L72.2,15.1L73.1,14.1L74.1,13.1L75.2,12.2L76.3,11.4L77.5,10.7L78.7,10.0L79.9,9.4L81.2,8.9L82.5,8.5L83.9,8.2L85.2,8.0L86.6,7.9L87.9,7.9L89.2,7.9L90.5,8.1L91.8,8.4L93.0,8.8L94.2,9.3L95.3,9.9L96.4,10.6L97.4,11.4L98.3,12.3L99.1,13.2L99.9,14.2L100.5,15.3L101.0,16.4L101.4,17.5L101.7,18.7L101.8,19.8L101.8,20.9L102.6,23.2L104.3,25.0L106.5,26.1L108.9,26.2L111.2,25.4L113.0,23.7L114.1,21.5L114.2,19.1L113.5,16.9L112.7,14.8L111.7,12.9L110.6,11.0L109.4,9.3L108.1,7.7L106.6,6.2L105.0,4.8L103.4,3.5L101.7,2.4L99.8,1.4L98.0,0.5L96.0,-0.2L94.0,-0.7L92.0,-1.1L90.0,-1.3L88.0,-1.3L85.9,-1.2L84.0,-1.0L82.0,-0.6L80.1,-0.1L78.2,0.5L76.4,1.2L74.6,2.1L72.9,3.1L71.3,4.2L69.7,5.3L68.2,6.6L66.8,8.0L65.5,9.4L64.3,11.0L63.2,12.6L62.2,14.3L61.3,16.0L60.6,17.9L59.9,19.7L59.5,21.7L59.1,23.6L58.9,25.7L59.1,27.3L59.8,28.7L61.1,29.7L62.7,30.1L64.3,29.9L65.7,29.2L66.7,27.9Z"/><path d="M48.2,84.3L47.7,85.3L47.1,86.2L46.5,87.1L45.7,87.9L44.9,88.7L44.1,89.5L43.2,90.3L42.2,90.9L41.2,91.6L40.2,92.1L39.1,92.6L38.0,93.1L36.9,93.4L35.9,93.7L34.8,93.9L33.7,94.0L32.7,94.0L31.6,94.0L30.6,93.8L29.5,93.6L28.5,93.3L27.4,92.9L26.3,92.4L25.2,91.9L24.1,91.3L23.0,90.6L21.9,90.0L20.9,89.2L20.0,88.5L19.2,87.8L18.5,87.0L18.0,86.3L17.6,85.6L17.4,84.9L17.3,84.2L17.3,83.6L17.4,83.0L17.7,82.3L18.1,81.6L18.2,79.1L17.4,76.8L15.7,75.0L13.6,73.9L11.1,73.8L8.8,74.6L7.0,76.3L5.9,78.4L5.7,80.9L5.8,83.2L6.2,85.4L6.8,87.5L7.7,89.4L8.7,91.1L9.9,92.6L11.2,93.9L12.5,95.1L13.9,96.2L15.4,97.2L16.8,98.1L18.2,98.9L19.7,99.7L21.2,100.4L22.7,101.0L24.3,101.6L25.9,102.1L27.5,102.5L29.2,102.8L30.9,103.0L32.7,103.0L34.4,102.9L36.1,102.7L37.8,102.4L39.5,101.9L41.1,101.4L42.7,100.7L44.2,99.9L45.7,99.1L47.2,98.1L48.5,97.1L49.8,96.0L51.1,94.8L52.2,93.5L53.3,92.2L54.2,90.7L55.0,89.2L55.8,87.7L56.1,86.1L55.9,84.5L55.0,83.2L53.7,82.2L52.1,81.9L50.5,82.1L49.2,83.0Z"/><circle cx="108" cy="26" r="14.2"/><circle cx="15.5" cy="79" r="14.2"/></g><text transform="matrix(0.4367,0,0,0.4728,144.01,41.60)" font-family="Liberation Serif, serif" font-size="100" stroke="#000" stroke-width="1.5" stroke-linejoin="round">)</text></g>
</svg>
</body></html>
